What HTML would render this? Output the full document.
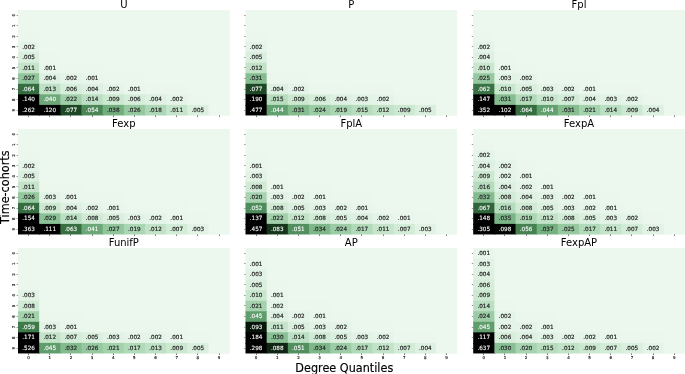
<!DOCTYPE html>
<html><head><meta charset="utf-8"><title>Heatmaps</title>
<style>
html,body{margin:0;padding:0;background:#fff;overflow:hidden}
svg{display:block}
text{font-family:"DejaVu Sans","Liberation Sans",sans-serif}
.a{font-size:5.7px;text-anchor:middle;fill:#262626;stroke:#262626;stroke-width:0.2px}
.w{fill:#fff;stroke:#fff;stroke-width:0.1px}
.t{font-size:10px;text-anchor:middle;fill:#000}
.l{font-size:11.25px;text-anchor:middle;fill:#000;stroke:#000;stroke-width:0.15px}
.k{font-size:4px;text-anchor:middle;fill:#111;stroke:#111;stroke-width:0.15px}
.m{stroke:#222;stroke-width:0.6}
.n{stroke-width:0.45}
</style></head><body>
<svg width="685" height="374" viewBox="0 0 685 374">
<rect width="685" height="374" fill="#fff"/>
<g>
<rect x="18.00" y="10.00" width="211.60" height="105.45" fill="#ecf7ee"/>
<rect x="18.00" y="10.00" width="22.16" height="11.54" fill="#ecf7ee"/><rect x="39.16" y="10.00" width="22.16" height="11.54" fill="#ecf7ee"/><rect x="60.32" y="10.00" width="22.16" height="11.54" fill="#ecf7ee"/><rect x="81.48" y="10.00" width="22.16" height="11.54" fill="#ecf7ee"/><rect x="102.64" y="10.00" width="22.16" height="11.54" fill="#ecf7ee"/><rect x="123.80" y="10.00" width="22.16" height="11.54" fill="#ecf7ee"/><rect x="144.96" y="10.00" width="22.16" height="11.54" fill="#ecf7ee"/><rect x="166.12" y="10.00" width="22.16" height="11.54" fill="#ecf7ee"/><rect x="187.28" y="10.00" width="22.16" height="11.54" fill="#ecf7ee"/><rect x="208.44" y="10.00" width="21.16" height="11.54" fill="#ecf7ee"/><rect x="18.00" y="20.55" width="22.16" height="11.54" fill="#ecf7ee"/><rect x="39.16" y="20.55" width="22.16" height="11.54" fill="#ecf7ee"/><rect x="60.32" y="20.55" width="22.16" height="11.54" fill="#ecf7ee"/><rect x="81.48" y="20.55" width="22.16" height="11.54" fill="#ecf7ee"/><rect x="102.64" y="20.55" width="22.16" height="11.54" fill="#ecf7ee"/><rect x="123.80" y="20.55" width="22.16" height="11.54" fill="#ecf7ee"/><rect x="144.96" y="20.55" width="22.16" height="11.54" fill="#ecf7ee"/><rect x="166.12" y="20.55" width="22.16" height="11.54" fill="#ecf7ee"/><rect x="187.28" y="20.55" width="22.16" height="11.54" fill="#ecf7ee"/><rect x="208.44" y="20.55" width="21.16" height="11.54" fill="#ecf7ee"/><rect x="18.00" y="31.09" width="22.16" height="11.54" fill="#ebf7ed"/><rect x="39.16" y="31.09" width="22.16" height="11.54" fill="#ecf7ee"/><rect x="60.32" y="31.09" width="22.16" height="11.54" fill="#ecf7ee"/><rect x="81.48" y="31.09" width="22.16" height="11.54" fill="#ecf7ee"/><rect x="102.64" y="31.09" width="22.16" height="11.54" fill="#ecf7ee"/><rect x="123.80" y="31.09" width="22.16" height="11.54" fill="#ecf7ee"/><rect x="144.96" y="31.09" width="22.16" height="11.54" fill="#ecf7ee"/><rect x="166.12" y="31.09" width="22.16" height="11.54" fill="#ecf7ee"/><rect x="187.28" y="31.09" width="22.16" height="11.54" fill="#ecf7ee"/><rect x="208.44" y="31.09" width="21.16" height="11.54" fill="#ecf7ee"/><rect x="18.00" y="41.63" width="22.16" height="11.54" fill="#e5f4e8"/><rect x="39.16" y="41.63" width="22.16" height="11.54" fill="#ecf7ee"/><rect x="60.32" y="41.63" width="22.16" height="11.54" fill="#ecf7ee"/><rect x="81.48" y="41.63" width="22.16" height="11.54" fill="#ecf7ee"/><rect x="102.64" y="41.63" width="22.16" height="11.54" fill="#ecf7ee"/><rect x="123.80" y="41.63" width="22.16" height="11.54" fill="#ecf7ee"/><rect x="144.96" y="41.63" width="22.16" height="11.54" fill="#ecf7ee"/><rect x="166.12" y="41.63" width="22.16" height="11.54" fill="#ecf7ee"/><rect x="187.28" y="41.63" width="22.16" height="11.54" fill="#ecf7ee"/><rect x="208.44" y="41.63" width="21.16" height="11.54" fill="#ecf7ee"/><rect x="18.00" y="52.18" width="22.16" height="11.54" fill="#daefde"/><rect x="39.16" y="52.18" width="22.16" height="11.54" fill="#ebf7ed"/><rect x="60.32" y="52.18" width="22.16" height="11.54" fill="#ecf7ee"/><rect x="81.48" y="52.18" width="22.16" height="11.54" fill="#ecf7ee"/><rect x="102.64" y="52.18" width="22.16" height="11.54" fill="#ecf7ee"/><rect x="123.80" y="52.18" width="22.16" height="11.54" fill="#ecf7ee"/><rect x="144.96" y="52.18" width="22.16" height="11.54" fill="#ecf7ee"/><rect x="166.12" y="52.18" width="22.16" height="11.54" fill="#ecf7ee"/><rect x="187.28" y="52.18" width="22.16" height="11.54" fill="#ecf7ee"/><rect x="208.44" y="52.18" width="21.16" height="11.54" fill="#ecf7ee"/><rect x="18.00" y="62.73" width="22.16" height="11.54" fill="#c5e4cb"/><rect x="39.16" y="62.73" width="22.16" height="11.54" fill="#e9f6ec"/><rect x="60.32" y="62.73" width="22.16" height="11.54" fill="#ebf7ed"/><rect x="81.48" y="62.73" width="22.16" height="11.54" fill="#ebf7ed"/><rect x="102.64" y="62.73" width="22.16" height="11.54" fill="#ecf7ee"/><rect x="123.80" y="62.73" width="22.16" height="11.54" fill="#ecf7ee"/><rect x="144.96" y="62.73" width="22.16" height="11.54" fill="#ecf7ee"/><rect x="166.12" y="62.73" width="22.16" height="11.54" fill="#ecf7ee"/><rect x="187.28" y="62.73" width="22.16" height="11.54" fill="#ecf7ee"/><rect x="208.44" y="62.73" width="21.16" height="11.54" fill="#ecf7ee"/><rect x="18.00" y="73.27" width="22.16" height="11.54" fill="#91c59c"/><rect x="39.16" y="73.27" width="22.16" height="11.54" fill="#ddf0e1"/><rect x="60.32" y="73.27" width="22.16" height="11.54" fill="#e5f4e8"/><rect x="81.48" y="73.27" width="22.16" height="11.54" fill="#e9f6ec"/><rect x="102.64" y="73.27" width="22.16" height="11.54" fill="#ebf7ed"/><rect x="123.80" y="73.27" width="22.16" height="11.54" fill="#ebf7ed"/><rect x="144.96" y="73.27" width="22.16" height="11.54" fill="#ecf7ee"/><rect x="166.12" y="73.27" width="22.16" height="11.54" fill="#ecf7ee"/><rect x="187.28" y="73.27" width="22.16" height="11.54" fill="#ecf7ee"/><rect x="208.44" y="73.27" width="21.16" height="11.54" fill="#ecf7ee"/><rect x="18.00" y="83.81" width="22.16" height="11.54" fill="#356c40"/><rect x="39.16" y="83.81" width="22.16" height="11.54" fill="#bee1c5"/><rect x="60.32" y="83.81" width="22.16" height="11.54" fill="#d6edda"/><rect x="81.48" y="83.81" width="22.16" height="11.54" fill="#ddf0e1"/><rect x="102.64" y="83.81" width="22.16" height="11.54" fill="#e5f4e8"/><rect x="123.80" y="83.81" width="22.16" height="11.54" fill="#e9f6ec"/><rect x="144.96" y="83.81" width="22.16" height="11.54" fill="#ebf7ed"/><rect x="166.12" y="83.81" width="22.16" height="11.54" fill="#ebf7ed"/><rect x="187.28" y="83.81" width="22.16" height="11.54" fill="#ecf7ee"/><rect x="208.44" y="83.81" width="21.16" height="11.54" fill="#ecf7ee"/><rect x="18.00" y="94.36" width="22.16" height="11.54" fill="#000000"/><rect x="39.16" y="94.36" width="22.16" height="11.54" fill="#6ca878"/><rect x="60.32" y="94.36" width="22.16" height="11.54" fill="#a0cfaa"/><rect x="81.48" y="94.36" width="22.16" height="11.54" fill="#bbdfc2"/><rect x="102.64" y="94.36" width="22.16" height="11.54" fill="#cce8d1"/><rect x="123.80" y="94.36" width="22.16" height="11.54" fill="#d6edda"/><rect x="144.96" y="94.36" width="22.16" height="11.54" fill="#ddf0e1"/><rect x="166.12" y="94.36" width="22.16" height="11.54" fill="#e5f4e8"/><rect x="187.28" y="94.36" width="22.16" height="11.54" fill="#ebf7ed"/><rect x="208.44" y="94.36" width="21.16" height="11.54" fill="#ecf7ee"/><rect x="18.00" y="104.91" width="22.16" height="10.54" fill="#000000"/><rect x="39.16" y="104.91" width="22.16" height="10.54" fill="#000000"/><rect x="60.32" y="104.91" width="22.16" height="10.54" fill="#1e4726"/><rect x="81.48" y="104.91" width="22.16" height="10.54" fill="#4a8656"/><rect x="102.64" y="104.91" width="22.16" height="10.54" fill="#72ad7e"/><rect x="123.80" y="104.91" width="22.16" height="10.54" fill="#95c89f"/><rect x="144.96" y="104.91" width="22.16" height="10.54" fill="#add7b6"/><rect x="166.12" y="104.91" width="22.16" height="10.54" fill="#c5e4cb"/><rect x="187.28" y="104.91" width="22.16" height="10.54" fill="#daefde"/><rect x="208.44" y="104.91" width="21.16" height="10.54" fill="#ecf7ee"/>
<text class="a" x="28.58" y="49.10">.002</text><text class="a" x="28.58" y="59.10">.005</text><text class="a" x="28.58" y="70.10">.011</text><text class="a" x="49.74" y="70.10">.001</text><text class="a" x="28.58" y="80.10">.027</text><text class="a" x="49.74" y="80.10">.004</text><text class="a" x="70.90" y="80.10">.002</text><text class="a" x="92.06" y="80.10">.001</text><text class="a w" x="28.58" y="91.10">.064</text><text class="a" x="49.74" y="91.10">.013</text><text class="a" x="70.90" y="91.10">.006</text><text class="a" x="92.06" y="91.10">.004</text><text class="a" x="113.22" y="91.10">.002</text><text class="a" x="134.38" y="91.10">.001</text><text class="a w" x="28.58" y="101.10">.140</text><text class="a w" x="49.74" y="101.10">.040</text><text class="a" x="70.90" y="101.10">.022</text><text class="a" x="92.06" y="101.10">.014</text><text class="a" x="113.22" y="101.10">.009</text><text class="a" x="134.38" y="101.10">.006</text><text class="a" x="155.54" y="101.10">.004</text><text class="a" x="176.70" y="101.10">.002</text><text class="a w" x="28.58" y="112.10">.262</text><text class="a w" x="49.74" y="112.10">.120</text><text class="a w" x="70.90" y="112.10">.077</text><text class="a w" x="92.06" y="112.10">.054</text><text class="a" x="113.22" y="112.10">.038</text><text class="a" x="134.38" y="112.10">.026</text><text class="a" x="155.54" y="112.10">.018</text><text class="a" x="176.70" y="112.10">.011</text><text class="a" x="197.86" y="112.10">.005</text>
<line class="m" x1="28.50" y1="115.45" x2="28.50" y2="117.05"/><line class="m n" x1="16.60" y1="15.50" x2="18.00" y2="15.50"/><line class="m" x1="49.50" y1="115.45" x2="49.50" y2="117.05"/><line class="m n" x1="16.60" y1="25.50" x2="18.00" y2="25.50"/><line class="m" x1="70.50" y1="115.45" x2="70.50" y2="117.05"/><line class="m n" x1="16.60" y1="36.50" x2="18.00" y2="36.50"/><line class="m" x1="92.50" y1="115.45" x2="92.50" y2="117.05"/><line class="m n" x1="16.60" y1="46.50" x2="18.00" y2="46.50"/><line class="m" x1="113.50" y1="115.45" x2="113.50" y2="117.05"/><line class="m n" x1="16.60" y1="57.50" x2="18.00" y2="57.50"/><line class="m" x1="134.50" y1="115.45" x2="134.50" y2="117.05"/><line class="m n" x1="16.60" y1="67.50" x2="18.00" y2="67.50"/><line class="m" x1="155.50" y1="115.45" x2="155.50" y2="117.05"/><line class="m n" x1="16.60" y1="78.50" x2="18.00" y2="78.50"/><line class="m" x1="176.50" y1="115.45" x2="176.50" y2="117.05"/><line class="m n" x1="16.60" y1="89.50" x2="18.00" y2="89.50"/><line class="m" x1="197.50" y1="115.45" x2="197.50" y2="117.05"/><line class="m n" x1="16.60" y1="99.50" x2="18.00" y2="99.50"/><line class="m" x1="219.50" y1="115.45" x2="219.50" y2="117.05"/><line class="m n" x1="16.60" y1="110.50" x2="18.00" y2="110.50"/>
<text class="k" transform="translate(15.00,15.27) rotate(-90)">0</text><text class="k" transform="translate(15.00,25.82) rotate(-90)">1</text><text class="k" transform="translate(15.00,36.36) rotate(-90)">2</text><text class="k" transform="translate(15.00,46.91) rotate(-90)">3</text><text class="k" transform="translate(15.00,57.45) rotate(-90)">4</text><text class="k" transform="translate(15.00,68.00) rotate(-90)">5</text><text class="k" transform="translate(15.00,78.54) rotate(-90)">6</text><text class="k" transform="translate(15.00,89.09) rotate(-90)">7</text><text class="k" transform="translate(15.00,99.63) rotate(-90)">8</text><text class="k" transform="translate(15.00,110.18) rotate(-90)">9</text>
<text class="t" x="123.80" y="8.10">U</text>
</g>
<g>
<rect x="245.50" y="10.00" width="211.60" height="105.45" fill="#ecf7ee"/>
<rect x="245.50" y="10.00" width="22.16" height="11.54" fill="#ecf7ee"/><rect x="266.66" y="10.00" width="22.16" height="11.54" fill="#ecf7ee"/><rect x="287.82" y="10.00" width="22.16" height="11.54" fill="#ecf7ee"/><rect x="308.98" y="10.00" width="22.16" height="11.54" fill="#ecf7ee"/><rect x="330.14" y="10.00" width="22.16" height="11.54" fill="#ecf7ee"/><rect x="351.30" y="10.00" width="22.16" height="11.54" fill="#ecf7ee"/><rect x="372.46" y="10.00" width="22.16" height="11.54" fill="#ecf7ee"/><rect x="393.62" y="10.00" width="22.16" height="11.54" fill="#ecf7ee"/><rect x="414.78" y="10.00" width="22.16" height="11.54" fill="#ecf7ee"/><rect x="435.94" y="10.00" width="21.16" height="11.54" fill="#ecf7ee"/><rect x="245.50" y="20.55" width="22.16" height="11.54" fill="#ecf7ee"/><rect x="266.66" y="20.55" width="22.16" height="11.54" fill="#ecf7ee"/><rect x="287.82" y="20.55" width="22.16" height="11.54" fill="#ecf7ee"/><rect x="308.98" y="20.55" width="22.16" height="11.54" fill="#ecf7ee"/><rect x="330.14" y="20.55" width="22.16" height="11.54" fill="#ecf7ee"/><rect x="351.30" y="20.55" width="22.16" height="11.54" fill="#ecf7ee"/><rect x="372.46" y="20.55" width="22.16" height="11.54" fill="#ecf7ee"/><rect x="393.62" y="20.55" width="22.16" height="11.54" fill="#ecf7ee"/><rect x="414.78" y="20.55" width="22.16" height="11.54" fill="#ecf7ee"/><rect x="435.94" y="20.55" width="21.16" height="11.54" fill="#ecf7ee"/><rect x="245.50" y="31.09" width="22.16" height="11.54" fill="#ebf7ed"/><rect x="266.66" y="31.09" width="22.16" height="11.54" fill="#ecf7ee"/><rect x="287.82" y="31.09" width="22.16" height="11.54" fill="#ecf7ee"/><rect x="308.98" y="31.09" width="22.16" height="11.54" fill="#ecf7ee"/><rect x="330.14" y="31.09" width="22.16" height="11.54" fill="#ecf7ee"/><rect x="351.30" y="31.09" width="22.16" height="11.54" fill="#ecf7ee"/><rect x="372.46" y="31.09" width="22.16" height="11.54" fill="#ecf7ee"/><rect x="393.62" y="31.09" width="22.16" height="11.54" fill="#ecf7ee"/><rect x="414.78" y="31.09" width="22.16" height="11.54" fill="#ecf7ee"/><rect x="435.94" y="31.09" width="21.16" height="11.54" fill="#ecf7ee"/><rect x="245.50" y="41.63" width="22.16" height="11.54" fill="#e5f4e8"/><rect x="266.66" y="41.63" width="22.16" height="11.54" fill="#ecf7ee"/><rect x="287.82" y="41.63" width="22.16" height="11.54" fill="#ecf7ee"/><rect x="308.98" y="41.63" width="22.16" height="11.54" fill="#ecf7ee"/><rect x="330.14" y="41.63" width="22.16" height="11.54" fill="#ecf7ee"/><rect x="351.30" y="41.63" width="22.16" height="11.54" fill="#ecf7ee"/><rect x="372.46" y="41.63" width="22.16" height="11.54" fill="#ecf7ee"/><rect x="393.62" y="41.63" width="22.16" height="11.54" fill="#ecf7ee"/><rect x="414.78" y="41.63" width="22.16" height="11.54" fill="#ecf7ee"/><rect x="435.94" y="41.63" width="21.16" height="11.54" fill="#ecf7ee"/><rect x="245.50" y="52.18" width="22.16" height="11.54" fill="#daefde"/><rect x="266.66" y="52.18" width="22.16" height="11.54" fill="#ecf7ee"/><rect x="287.82" y="52.18" width="22.16" height="11.54" fill="#ecf7ee"/><rect x="308.98" y="52.18" width="22.16" height="11.54" fill="#ecf7ee"/><rect x="330.14" y="52.18" width="22.16" height="11.54" fill="#ecf7ee"/><rect x="351.30" y="52.18" width="22.16" height="11.54" fill="#ecf7ee"/><rect x="372.46" y="52.18" width="22.16" height="11.54" fill="#ecf7ee"/><rect x="393.62" y="52.18" width="22.16" height="11.54" fill="#ecf7ee"/><rect x="414.78" y="52.18" width="22.16" height="11.54" fill="#ecf7ee"/><rect x="435.94" y="52.18" width="21.16" height="11.54" fill="#ecf7ee"/><rect x="245.50" y="62.73" width="22.16" height="11.54" fill="#c2e3c8"/><rect x="266.66" y="62.73" width="22.16" height="11.54" fill="#ecf7ee"/><rect x="287.82" y="62.73" width="22.16" height="11.54" fill="#ecf7ee"/><rect x="308.98" y="62.73" width="22.16" height="11.54" fill="#ecf7ee"/><rect x="330.14" y="62.73" width="22.16" height="11.54" fill="#ecf7ee"/><rect x="351.30" y="62.73" width="22.16" height="11.54" fill="#ecf7ee"/><rect x="372.46" y="62.73" width="22.16" height="11.54" fill="#ecf7ee"/><rect x="393.62" y="62.73" width="22.16" height="11.54" fill="#ecf7ee"/><rect x="414.78" y="62.73" width="22.16" height="11.54" fill="#ecf7ee"/><rect x="435.94" y="62.73" width="21.16" height="11.54" fill="#ecf7ee"/><rect x="245.50" y="73.27" width="22.16" height="11.54" fill="#85bc90"/><rect x="266.66" y="73.27" width="22.16" height="11.54" fill="#ebf7ed"/><rect x="287.82" y="73.27" width="22.16" height="11.54" fill="#ebf7ed"/><rect x="308.98" y="73.27" width="22.16" height="11.54" fill="#ecf7ee"/><rect x="330.14" y="73.27" width="22.16" height="11.54" fill="#ecf7ee"/><rect x="351.30" y="73.27" width="22.16" height="11.54" fill="#ecf7ee"/><rect x="372.46" y="73.27" width="22.16" height="11.54" fill="#ecf7ee"/><rect x="393.62" y="73.27" width="22.16" height="11.54" fill="#ecf7ee"/><rect x="414.78" y="73.27" width="22.16" height="11.54" fill="#ecf7ee"/><rect x="435.94" y="73.27" width="21.16" height="11.54" fill="#ecf7ee"/><rect x="245.50" y="83.81" width="22.16" height="11.54" fill="#1e4726"/><rect x="266.66" y="83.81" width="22.16" height="11.54" fill="#ddf0e1"/><rect x="287.82" y="83.81" width="22.16" height="11.54" fill="#e5f4e8"/><rect x="308.98" y="83.81" width="22.16" height="11.54" fill="#ebf7ed"/><rect x="330.14" y="83.81" width="22.16" height="11.54" fill="#ebf7ed"/><rect x="351.30" y="83.81" width="22.16" height="11.54" fill="#ebf7ed"/><rect x="372.46" y="83.81" width="22.16" height="11.54" fill="#ebf7ed"/><rect x="393.62" y="83.81" width="22.16" height="11.54" fill="#ecf7ee"/><rect x="414.78" y="83.81" width="22.16" height="11.54" fill="#ecf7ee"/><rect x="435.94" y="83.81" width="21.16" height="11.54" fill="#ecf7ee"/><rect x="245.50" y="94.36" width="22.16" height="11.54" fill="#000000"/><rect x="266.66" y="94.36" width="22.16" height="11.54" fill="#b7ddbe"/><rect x="287.82" y="94.36" width="22.16" height="11.54" fill="#cce8d1"/><rect x="308.98" y="94.36" width="22.16" height="11.54" fill="#d6edda"/><rect x="330.14" y="94.36" width="22.16" height="11.54" fill="#ddf0e1"/><rect x="351.30" y="94.36" width="22.16" height="11.54" fill="#e2f3e5"/><rect x="372.46" y="94.36" width="22.16" height="11.54" fill="#e5f4e8"/><rect x="393.62" y="94.36" width="22.16" height="11.54" fill="#ebf7ed"/><rect x="414.78" y="94.36" width="22.16" height="11.54" fill="#ebf7ed"/><rect x="435.94" y="94.36" width="21.16" height="11.54" fill="#ecf7ee"/><rect x="245.50" y="104.91" width="22.16" height="10.54" fill="#000000"/><rect x="266.66" y="104.91" width="22.16" height="10.54" fill="#63a06f"/><rect x="287.82" y="104.91" width="22.16" height="10.54" fill="#85bc90"/><rect x="308.98" y="104.91" width="22.16" height="10.54" fill="#9bcca5"/><rect x="330.14" y="104.91" width="22.16" height="10.54" fill="#abd6b3"/><rect x="351.30" y="104.91" width="22.16" height="10.54" fill="#b7ddbe"/><rect x="372.46" y="104.91" width="22.16" height="10.54" fill="#c2e3c8"/><rect x="393.62" y="104.91" width="22.16" height="10.54" fill="#cce8d1"/><rect x="414.78" y="104.91" width="22.16" height="10.54" fill="#daefde"/><rect x="435.94" y="104.91" width="21.16" height="10.54" fill="#ecf7ee"/>
<text class="a" x="256.08" y="49.10">.002</text><text class="a" x="256.08" y="59.10">.005</text><text class="a" x="256.08" y="70.10">.012</text><text class="a" x="256.08" y="80.10">.031</text><text class="a w" x="256.08" y="91.10">.077</text><text class="a" x="277.24" y="91.10">.004</text><text class="a" x="298.40" y="91.10">.002</text><text class="a w" x="256.08" y="101.10">.190</text><text class="a" x="277.24" y="101.10">.015</text><text class="a" x="298.40" y="101.10">.009</text><text class="a" x="319.56" y="101.10">.006</text><text class="a" x="340.72" y="101.10">.004</text><text class="a" x="361.88" y="101.10">.003</text><text class="a" x="383.04" y="101.10">.002</text><text class="a w" x="256.08" y="112.10">.477</text><text class="a w" x="277.24" y="112.10">.044</text><text class="a" x="298.40" y="112.10">.031</text><text class="a" x="319.56" y="112.10">.024</text><text class="a" x="340.72" y="112.10">.019</text><text class="a" x="361.88" y="112.10">.015</text><text class="a" x="383.04" y="112.10">.012</text><text class="a" x="404.20" y="112.10">.009</text><text class="a" x="425.36" y="112.10">.005</text>
<line class="m" x1="256.50" y1="115.45" x2="256.50" y2="117.05"/><line class="m n" x1="244.10" y1="15.50" x2="245.50" y2="15.50"/><line class="m" x1="277.50" y1="115.45" x2="277.50" y2="117.05"/><line class="m n" x1="244.10" y1="25.50" x2="245.50" y2="25.50"/><line class="m" x1="298.50" y1="115.45" x2="298.50" y2="117.05"/><line class="m n" x1="244.10" y1="36.50" x2="245.50" y2="36.50"/><line class="m" x1="319.50" y1="115.45" x2="319.50" y2="117.05"/><line class="m n" x1="244.10" y1="46.50" x2="245.50" y2="46.50"/><line class="m" x1="340.50" y1="115.45" x2="340.50" y2="117.05"/><line class="m n" x1="244.10" y1="57.50" x2="245.50" y2="57.50"/><line class="m" x1="361.50" y1="115.45" x2="361.50" y2="117.05"/><line class="m n" x1="244.10" y1="67.50" x2="245.50" y2="67.50"/><line class="m" x1="383.50" y1="115.45" x2="383.50" y2="117.05"/><line class="m n" x1="244.10" y1="78.50" x2="245.50" y2="78.50"/><line class="m" x1="404.50" y1="115.45" x2="404.50" y2="117.05"/><line class="m n" x1="244.10" y1="89.50" x2="245.50" y2="89.50"/><line class="m" x1="425.50" y1="115.45" x2="425.50" y2="117.05"/><line class="m n" x1="244.10" y1="99.50" x2="245.50" y2="99.50"/><line class="m" x1="446.50" y1="115.45" x2="446.50" y2="117.05"/><line class="m n" x1="244.10" y1="110.50" x2="245.50" y2="110.50"/>
<text class="t" x="351.30" y="8.10">P</text>
</g>
<g>
<rect x="473.20" y="10.00" width="211.60" height="105.45" fill="#ecf7ee"/>
<rect x="473.20" y="10.00" width="22.16" height="11.54" fill="#ecf7ee"/><rect x="494.36" y="10.00" width="22.16" height="11.54" fill="#ecf7ee"/><rect x="515.52" y="10.00" width="22.16" height="11.54" fill="#ecf7ee"/><rect x="536.68" y="10.00" width="22.16" height="11.54" fill="#ecf7ee"/><rect x="557.84" y="10.00" width="22.16" height="11.54" fill="#ecf7ee"/><rect x="579.00" y="10.00" width="22.16" height="11.54" fill="#ecf7ee"/><rect x="600.16" y="10.00" width="22.16" height="11.54" fill="#ecf7ee"/><rect x="621.32" y="10.00" width="22.16" height="11.54" fill="#ecf7ee"/><rect x="642.48" y="10.00" width="22.16" height="11.54" fill="#ecf7ee"/><rect x="663.64" y="10.00" width="21.16" height="11.54" fill="#ecf7ee"/><rect x="473.20" y="20.55" width="22.16" height="11.54" fill="#ecf7ee"/><rect x="494.36" y="20.55" width="22.16" height="11.54" fill="#ecf7ee"/><rect x="515.52" y="20.55" width="22.16" height="11.54" fill="#ecf7ee"/><rect x="536.68" y="20.55" width="22.16" height="11.54" fill="#ecf7ee"/><rect x="557.84" y="20.55" width="22.16" height="11.54" fill="#ecf7ee"/><rect x="579.00" y="20.55" width="22.16" height="11.54" fill="#ecf7ee"/><rect x="600.16" y="20.55" width="22.16" height="11.54" fill="#ecf7ee"/><rect x="621.32" y="20.55" width="22.16" height="11.54" fill="#ecf7ee"/><rect x="642.48" y="20.55" width="22.16" height="11.54" fill="#ecf7ee"/><rect x="663.64" y="20.55" width="21.16" height="11.54" fill="#ecf7ee"/><rect x="473.20" y="31.09" width="22.16" height="11.54" fill="#ebf7ed"/><rect x="494.36" y="31.09" width="22.16" height="11.54" fill="#ecf7ee"/><rect x="515.52" y="31.09" width="22.16" height="11.54" fill="#ecf7ee"/><rect x="536.68" y="31.09" width="22.16" height="11.54" fill="#ecf7ee"/><rect x="557.84" y="31.09" width="22.16" height="11.54" fill="#ecf7ee"/><rect x="579.00" y="31.09" width="22.16" height="11.54" fill="#ecf7ee"/><rect x="600.16" y="31.09" width="22.16" height="11.54" fill="#ecf7ee"/><rect x="621.32" y="31.09" width="22.16" height="11.54" fill="#ecf7ee"/><rect x="642.48" y="31.09" width="22.16" height="11.54" fill="#ecf7ee"/><rect x="663.64" y="31.09" width="21.16" height="11.54" fill="#ecf7ee"/><rect x="473.20" y="41.63" width="22.16" height="11.54" fill="#e5f4e8"/><rect x="494.36" y="41.63" width="22.16" height="11.54" fill="#ecf7ee"/><rect x="515.52" y="41.63" width="22.16" height="11.54" fill="#ecf7ee"/><rect x="536.68" y="41.63" width="22.16" height="11.54" fill="#ecf7ee"/><rect x="557.84" y="41.63" width="22.16" height="11.54" fill="#ecf7ee"/><rect x="579.00" y="41.63" width="22.16" height="11.54" fill="#ecf7ee"/><rect x="600.16" y="41.63" width="22.16" height="11.54" fill="#ecf7ee"/><rect x="621.32" y="41.63" width="22.16" height="11.54" fill="#ecf7ee"/><rect x="642.48" y="41.63" width="22.16" height="11.54" fill="#ecf7ee"/><rect x="663.64" y="41.63" width="21.16" height="11.54" fill="#ecf7ee"/><rect x="473.20" y="52.18" width="22.16" height="11.54" fill="#ddf0e1"/><rect x="494.36" y="52.18" width="22.16" height="11.54" fill="#ebf7ed"/><rect x="515.52" y="52.18" width="22.16" height="11.54" fill="#ecf7ee"/><rect x="536.68" y="52.18" width="22.16" height="11.54" fill="#ecf7ee"/><rect x="557.84" y="52.18" width="22.16" height="11.54" fill="#ecf7ee"/><rect x="579.00" y="52.18" width="22.16" height="11.54" fill="#ecf7ee"/><rect x="600.16" y="52.18" width="22.16" height="11.54" fill="#ecf7ee"/><rect x="621.32" y="52.18" width="22.16" height="11.54" fill="#ecf7ee"/><rect x="642.48" y="52.18" width="22.16" height="11.54" fill="#ecf7ee"/><rect x="663.64" y="52.18" width="21.16" height="11.54" fill="#ecf7ee"/><rect x="473.20" y="62.73" width="22.16" height="11.54" fill="#c9e7cf"/><rect x="494.36" y="62.73" width="22.16" height="11.54" fill="#e9f6ec"/><rect x="515.52" y="62.73" width="22.16" height="11.54" fill="#ebf7ed"/><rect x="536.68" y="62.73" width="22.16" height="11.54" fill="#ecf7ee"/><rect x="557.84" y="62.73" width="22.16" height="11.54" fill="#ecf7ee"/><rect x="579.00" y="62.73" width="22.16" height="11.54" fill="#ecf7ee"/><rect x="600.16" y="62.73" width="22.16" height="11.54" fill="#ecf7ee"/><rect x="621.32" y="62.73" width="22.16" height="11.54" fill="#ecf7ee"/><rect x="642.48" y="62.73" width="22.16" height="11.54" fill="#ecf7ee"/><rect x="663.64" y="62.73" width="21.16" height="11.54" fill="#ecf7ee"/><rect x="473.20" y="73.27" width="22.16" height="11.54" fill="#97c9a1"/><rect x="494.36" y="73.27" width="22.16" height="11.54" fill="#e2f3e5"/><rect x="515.52" y="73.27" width="22.16" height="11.54" fill="#e5f4e8"/><rect x="536.68" y="73.27" width="22.16" height="11.54" fill="#ebf7ed"/><rect x="557.84" y="73.27" width="22.16" height="11.54" fill="#ebf7ed"/><rect x="579.00" y="73.27" width="22.16" height="11.54" fill="#ebf7ed"/><rect x="600.16" y="73.27" width="22.16" height="11.54" fill="#ecf7ee"/><rect x="621.32" y="73.27" width="22.16" height="11.54" fill="#ecf7ee"/><rect x="642.48" y="73.27" width="22.16" height="11.54" fill="#ecf7ee"/><rect x="663.64" y="73.27" width="21.16" height="11.54" fill="#ecf7ee"/><rect x="473.20" y="83.81" width="22.16" height="11.54" fill="#397245"/><rect x="494.36" y="83.81" width="22.16" height="11.54" fill="#c9e7cf"/><rect x="515.52" y="83.81" width="22.16" height="11.54" fill="#daefde"/><rect x="536.68" y="83.81" width="22.16" height="11.54" fill="#e2f3e5"/><rect x="557.84" y="83.81" width="22.16" height="11.54" fill="#e5f4e8"/><rect x="579.00" y="83.81" width="22.16" height="11.54" fill="#e9f6ec"/><rect x="600.16" y="83.81" width="22.16" height="11.54" fill="#ebf7ed"/><rect x="621.32" y="83.81" width="22.16" height="11.54" fill="#ebf7ed"/><rect x="642.48" y="83.81" width="22.16" height="11.54" fill="#ecf7ee"/><rect x="663.64" y="83.81" width="21.16" height="11.54" fill="#ecf7ee"/><rect x="473.20" y="94.36" width="22.16" height="11.54" fill="#000000"/><rect x="494.36" y="94.36" width="22.16" height="11.54" fill="#85bc90"/><rect x="515.52" y="94.36" width="22.16" height="11.54" fill="#b1dab9"/><rect x="536.68" y="94.36" width="22.16" height="11.54" fill="#c9e7cf"/><rect x="557.84" y="94.36" width="22.16" height="11.54" fill="#d3ecd8"/><rect x="579.00" y="94.36" width="22.16" height="11.54" fill="#ddf0e1"/><rect x="600.16" y="94.36" width="22.16" height="11.54" fill="#e2f3e5"/><rect x="621.32" y="94.36" width="22.16" height="11.54" fill="#e5f4e8"/><rect x="642.48" y="94.36" width="22.16" height="11.54" fill="#ebf7ed"/><rect x="663.64" y="94.36" width="21.16" height="11.54" fill="#ecf7ee"/><rect x="473.20" y="104.91" width="22.16" height="10.54" fill="#000000"/><rect x="494.36" y="104.91" width="22.16" height="10.54" fill="#000000"/><rect x="515.52" y="104.91" width="22.16" height="10.54" fill="#356c40"/><rect x="536.68" y="104.91" width="22.16" height="10.54" fill="#63a06f"/><rect x="557.84" y="104.91" width="22.16" height="10.54" fill="#85bc90"/><rect x="579.00" y="104.91" width="22.16" height="10.54" fill="#a4d2ad"/><rect x="600.16" y="104.91" width="22.16" height="10.54" fill="#bbdfc2"/><rect x="621.32" y="104.91" width="22.16" height="10.54" fill="#cce8d1"/><rect x="642.48" y="104.91" width="22.16" height="10.54" fill="#ddf0e1"/><rect x="663.64" y="104.91" width="21.16" height="10.54" fill="#ecf7ee"/>
<text class="a" x="483.78" y="49.10">.002</text><text class="a" x="483.78" y="59.10">.004</text><text class="a" x="483.78" y="70.10">.010</text><text class="a" x="504.94" y="70.10">.001</text><text class="a" x="483.78" y="80.10">.025</text><text class="a" x="504.94" y="80.10">.003</text><text class="a" x="526.10" y="80.10">.002</text><text class="a w" x="483.78" y="91.10">.062</text><text class="a" x="504.94" y="91.10">.010</text><text class="a" x="526.10" y="91.10">.005</text><text class="a" x="547.26" y="91.10">.003</text><text class="a" x="568.42" y="91.10">.002</text><text class="a" x="589.58" y="91.10">.001</text><text class="a w" x="483.78" y="101.10">.147</text><text class="a" x="504.94" y="101.10">.031</text><text class="a" x="526.10" y="101.10">.017</text><text class="a" x="547.26" y="101.10">.010</text><text class="a" x="568.42" y="101.10">.007</text><text class="a" x="589.58" y="101.10">.004</text><text class="a" x="610.74" y="101.10">.003</text><text class="a" x="631.90" y="101.10">.002</text><text class="a w" x="483.78" y="112.10">.352</text><text class="a w" x="504.94" y="112.10">.102</text><text class="a w" x="526.10" y="112.10">.064</text><text class="a w" x="547.26" y="112.10">.044</text><text class="a" x="568.42" y="112.10">.031</text><text class="a" x="589.58" y="112.10">.021</text><text class="a" x="610.74" y="112.10">.014</text><text class="a" x="631.90" y="112.10">.009</text><text class="a" x="653.06" y="112.10">.004</text>
<line class="m" x1="483.50" y1="115.45" x2="483.50" y2="117.05"/><line class="m n" x1="471.80" y1="15.50" x2="473.20" y2="15.50"/><line class="m" x1="504.50" y1="115.45" x2="504.50" y2="117.05"/><line class="m n" x1="471.80" y1="25.50" x2="473.20" y2="25.50"/><line class="m" x1="526.50" y1="115.45" x2="526.50" y2="117.05"/><line class="m n" x1="471.80" y1="36.50" x2="473.20" y2="36.50"/><line class="m" x1="547.50" y1="115.45" x2="547.50" y2="117.05"/><line class="m n" x1="471.80" y1="46.50" x2="473.20" y2="46.50"/><line class="m" x1="568.50" y1="115.45" x2="568.50" y2="117.05"/><line class="m n" x1="471.80" y1="57.50" x2="473.20" y2="57.50"/><line class="m" x1="589.50" y1="115.45" x2="589.50" y2="117.05"/><line class="m n" x1="471.80" y1="67.50" x2="473.20" y2="67.50"/><line class="m" x1="610.50" y1="115.45" x2="610.50" y2="117.05"/><line class="m n" x1="471.80" y1="78.50" x2="473.20" y2="78.50"/><line class="m" x1="631.50" y1="115.45" x2="631.50" y2="117.05"/><line class="m n" x1="471.80" y1="89.50" x2="473.20" y2="89.50"/><line class="m" x1="653.50" y1="115.45" x2="653.50" y2="117.05"/><line class="m n" x1="471.80" y1="99.50" x2="473.20" y2="99.50"/><line class="m" x1="674.50" y1="115.45" x2="674.50" y2="117.05"/><line class="m n" x1="471.80" y1="110.50" x2="473.20" y2="110.50"/>
<text class="t" x="579.00" y="8.10">Fpl</text>
</g>
<g>
<rect x="18.00" y="129.00" width="211.60" height="105.45" fill="#ecf7ee"/>
<rect x="18.00" y="129.00" width="22.16" height="11.54" fill="#ecf7ee"/><rect x="39.16" y="129.00" width="22.16" height="11.54" fill="#ecf7ee"/><rect x="60.32" y="129.00" width="22.16" height="11.54" fill="#ecf7ee"/><rect x="81.48" y="129.00" width="22.16" height="11.54" fill="#ecf7ee"/><rect x="102.64" y="129.00" width="22.16" height="11.54" fill="#ecf7ee"/><rect x="123.80" y="129.00" width="22.16" height="11.54" fill="#ecf7ee"/><rect x="144.96" y="129.00" width="22.16" height="11.54" fill="#ecf7ee"/><rect x="166.12" y="129.00" width="22.16" height="11.54" fill="#ecf7ee"/><rect x="187.28" y="129.00" width="22.16" height="11.54" fill="#ecf7ee"/><rect x="208.44" y="129.00" width="21.16" height="11.54" fill="#ecf7ee"/><rect x="18.00" y="139.54" width="22.16" height="11.54" fill="#ecf7ee"/><rect x="39.16" y="139.54" width="22.16" height="11.54" fill="#ecf7ee"/><rect x="60.32" y="139.54" width="22.16" height="11.54" fill="#ecf7ee"/><rect x="81.48" y="139.54" width="22.16" height="11.54" fill="#ecf7ee"/><rect x="102.64" y="139.54" width="22.16" height="11.54" fill="#ecf7ee"/><rect x="123.80" y="139.54" width="22.16" height="11.54" fill="#ecf7ee"/><rect x="144.96" y="139.54" width="22.16" height="11.54" fill="#ecf7ee"/><rect x="166.12" y="139.54" width="22.16" height="11.54" fill="#ecf7ee"/><rect x="187.28" y="139.54" width="22.16" height="11.54" fill="#ecf7ee"/><rect x="208.44" y="139.54" width="21.16" height="11.54" fill="#ecf7ee"/><rect x="18.00" y="150.09" width="22.16" height="11.54" fill="#ebf7ed"/><rect x="39.16" y="150.09" width="22.16" height="11.54" fill="#ecf7ee"/><rect x="60.32" y="150.09" width="22.16" height="11.54" fill="#ecf7ee"/><rect x="81.48" y="150.09" width="22.16" height="11.54" fill="#ecf7ee"/><rect x="102.64" y="150.09" width="22.16" height="11.54" fill="#ecf7ee"/><rect x="123.80" y="150.09" width="22.16" height="11.54" fill="#ecf7ee"/><rect x="144.96" y="150.09" width="22.16" height="11.54" fill="#ecf7ee"/><rect x="166.12" y="150.09" width="22.16" height="11.54" fill="#ecf7ee"/><rect x="187.28" y="150.09" width="22.16" height="11.54" fill="#ecf7ee"/><rect x="208.44" y="150.09" width="21.16" height="11.54" fill="#ecf7ee"/><rect x="18.00" y="160.63" width="22.16" height="11.54" fill="#e5f4e8"/><rect x="39.16" y="160.63" width="22.16" height="11.54" fill="#ecf7ee"/><rect x="60.32" y="160.63" width="22.16" height="11.54" fill="#ecf7ee"/><rect x="81.48" y="160.63" width="22.16" height="11.54" fill="#ecf7ee"/><rect x="102.64" y="160.63" width="22.16" height="11.54" fill="#ecf7ee"/><rect x="123.80" y="160.63" width="22.16" height="11.54" fill="#ecf7ee"/><rect x="144.96" y="160.63" width="22.16" height="11.54" fill="#ecf7ee"/><rect x="166.12" y="160.63" width="22.16" height="11.54" fill="#ecf7ee"/><rect x="187.28" y="160.63" width="22.16" height="11.54" fill="#ecf7ee"/><rect x="208.44" y="160.63" width="21.16" height="11.54" fill="#ecf7ee"/><rect x="18.00" y="171.18" width="22.16" height="11.54" fill="#daefde"/><rect x="39.16" y="171.18" width="22.16" height="11.54" fill="#ecf7ee"/><rect x="60.32" y="171.18" width="22.16" height="11.54" fill="#ecf7ee"/><rect x="81.48" y="171.18" width="22.16" height="11.54" fill="#ecf7ee"/><rect x="102.64" y="171.18" width="22.16" height="11.54" fill="#ecf7ee"/><rect x="123.80" y="171.18" width="22.16" height="11.54" fill="#ecf7ee"/><rect x="144.96" y="171.18" width="22.16" height="11.54" fill="#ecf7ee"/><rect x="166.12" y="171.18" width="22.16" height="11.54" fill="#ecf7ee"/><rect x="187.28" y="171.18" width="22.16" height="11.54" fill="#ecf7ee"/><rect x="208.44" y="171.18" width="21.16" height="11.54" fill="#ecf7ee"/><rect x="18.00" y="181.72" width="22.16" height="11.54" fill="#c5e4cb"/><rect x="39.16" y="181.72" width="22.16" height="11.54" fill="#ebf7ed"/><rect x="60.32" y="181.72" width="22.16" height="11.54" fill="#ebf7ed"/><rect x="81.48" y="181.72" width="22.16" height="11.54" fill="#ecf7ee"/><rect x="102.64" y="181.72" width="22.16" height="11.54" fill="#ecf7ee"/><rect x="123.80" y="181.72" width="22.16" height="11.54" fill="#ecf7ee"/><rect x="144.96" y="181.72" width="22.16" height="11.54" fill="#ecf7ee"/><rect x="166.12" y="181.72" width="22.16" height="11.54" fill="#ecf7ee"/><rect x="187.28" y="181.72" width="22.16" height="11.54" fill="#ecf7ee"/><rect x="208.44" y="181.72" width="21.16" height="11.54" fill="#ecf7ee"/><rect x="18.00" y="192.27" width="22.16" height="11.54" fill="#95c89f"/><rect x="39.16" y="192.27" width="22.16" height="11.54" fill="#e2f3e5"/><rect x="60.32" y="192.27" width="22.16" height="11.54" fill="#e9f6ec"/><rect x="81.48" y="192.27" width="22.16" height="11.54" fill="#ebf7ed"/><rect x="102.64" y="192.27" width="22.16" height="11.54" fill="#ebf7ed"/><rect x="123.80" y="192.27" width="22.16" height="11.54" fill="#ecf7ee"/><rect x="144.96" y="192.27" width="22.16" height="11.54" fill="#ecf7ee"/><rect x="166.12" y="192.27" width="22.16" height="11.54" fill="#ecf7ee"/><rect x="187.28" y="192.27" width="22.16" height="11.54" fill="#ecf7ee"/><rect x="208.44" y="192.27" width="21.16" height="11.54" fill="#ecf7ee"/><rect x="18.00" y="202.81" width="22.16" height="11.54" fill="#356c40"/><rect x="39.16" y="202.81" width="22.16" height="11.54" fill="#cce8d1"/><rect x="60.32" y="202.81" width="22.16" height="11.54" fill="#ddf0e1"/><rect x="81.48" y="202.81" width="22.16" height="11.54" fill="#e5f4e8"/><rect x="102.64" y="202.81" width="22.16" height="11.54" fill="#e9f6ec"/><rect x="123.80" y="202.81" width="22.16" height="11.54" fill="#ebf7ed"/><rect x="144.96" y="202.81" width="22.16" height="11.54" fill="#ebf7ed"/><rect x="166.12" y="202.81" width="22.16" height="11.54" fill="#ebf7ed"/><rect x="187.28" y="202.81" width="22.16" height="11.54" fill="#ecf7ee"/><rect x="208.44" y="202.81" width="21.16" height="11.54" fill="#ecf7ee"/><rect x="18.00" y="213.36" width="22.16" height="11.54" fill="#000000"/><rect x="39.16" y="213.36" width="22.16" height="11.54" fill="#8bc196"/><rect x="60.32" y="213.36" width="22.16" height="11.54" fill="#bbdfc2"/><rect x="81.48" y="213.36" width="22.16" height="11.54" fill="#d0ead5"/><rect x="102.64" y="213.36" width="22.16" height="11.54" fill="#daefde"/><rect x="123.80" y="213.36" width="22.16" height="11.54" fill="#e2f3e5"/><rect x="144.96" y="213.36" width="22.16" height="11.54" fill="#e5f4e8"/><rect x="166.12" y="213.36" width="22.16" height="11.54" fill="#e9f6ec"/><rect x="187.28" y="213.36" width="22.16" height="11.54" fill="#ebf7ed"/><rect x="208.44" y="213.36" width="21.16" height="11.54" fill="#ecf7ee"/><rect x="18.00" y="223.91" width="22.16" height="10.54" fill="#000000"/><rect x="39.16" y="223.91" width="22.16" height="10.54" fill="#000000"/><rect x="60.32" y="223.91" width="22.16" height="10.54" fill="#376f42"/><rect x="81.48" y="223.91" width="22.16" height="10.54" fill="#6ba777"/><rect x="102.64" y="223.91" width="22.16" height="10.54" fill="#91c59c"/><rect x="123.80" y="223.91" width="22.16" height="10.54" fill="#abd6b3"/><rect x="144.96" y="223.91" width="22.16" height="10.54" fill="#c2e3c8"/><rect x="166.12" y="223.91" width="22.16" height="10.54" fill="#d3ecd8"/><rect x="187.28" y="223.91" width="22.16" height="10.54" fill="#e2f3e5"/><rect x="208.44" y="223.91" width="21.16" height="10.54" fill="#ecf7ee"/>
<text class="a" x="28.58" y="168.10">.002</text><text class="a" x="28.58" y="178.10">.005</text><text class="a" x="28.58" y="189.10">.011</text><text class="a" x="28.58" y="199.10">.026</text><text class="a" x="49.74" y="199.10">.003</text><text class="a" x="70.90" y="199.10">.001</text><text class="a w" x="28.58" y="210.10">.064</text><text class="a" x="49.74" y="210.10">.009</text><text class="a" x="70.90" y="210.10">.004</text><text class="a" x="92.06" y="210.10">.002</text><text class="a" x="113.22" y="210.10">.001</text><text class="a w" x="28.58" y="220.10">.154</text><text class="a" x="49.74" y="220.10">.029</text><text class="a" x="70.90" y="220.10">.014</text><text class="a" x="92.06" y="220.10">.008</text><text class="a" x="113.22" y="220.10">.005</text><text class="a" x="134.38" y="220.10">.003</text><text class="a" x="155.54" y="220.10">.002</text><text class="a" x="176.70" y="220.10">.001</text><text class="a w" x="28.58" y="231.10">.363</text><text class="a w" x="49.74" y="231.10">.111</text><text class="a w" x="70.90" y="231.10">.063</text><text class="a w" x="92.06" y="231.10">.041</text><text class="a" x="113.22" y="231.10">.027</text><text class="a" x="134.38" y="231.10">.019</text><text class="a" x="155.54" y="231.10">.012</text><text class="a" x="176.70" y="231.10">.007</text><text class="a" x="197.86" y="231.10">.003</text>
<line class="m" x1="28.50" y1="234.45" x2="28.50" y2="236.05"/><line class="m n" x1="16.60" y1="134.50" x2="18.00" y2="134.50"/><line class="m" x1="49.50" y1="234.45" x2="49.50" y2="236.05"/><line class="m n" x1="16.60" y1="144.50" x2="18.00" y2="144.50"/><line class="m" x1="70.50" y1="234.45" x2="70.50" y2="236.05"/><line class="m n" x1="16.60" y1="155.50" x2="18.00" y2="155.50"/><line class="m" x1="92.50" y1="234.45" x2="92.50" y2="236.05"/><line class="m n" x1="16.60" y1="165.50" x2="18.00" y2="165.50"/><line class="m" x1="113.50" y1="234.45" x2="113.50" y2="236.05"/><line class="m n" x1="16.60" y1="176.50" x2="18.00" y2="176.50"/><line class="m" x1="134.50" y1="234.45" x2="134.50" y2="236.05"/><line class="m n" x1="16.60" y1="186.50" x2="18.00" y2="186.50"/><line class="m" x1="155.50" y1="234.45" x2="155.50" y2="236.05"/><line class="m n" x1="16.60" y1="197.50" x2="18.00" y2="197.50"/><line class="m" x1="176.50" y1="234.45" x2="176.50" y2="236.05"/><line class="m n" x1="16.60" y1="208.50" x2="18.00" y2="208.50"/><line class="m" x1="197.50" y1="234.45" x2="197.50" y2="236.05"/><line class="m n" x1="16.60" y1="218.50" x2="18.00" y2="218.50"/><line class="m" x1="219.50" y1="234.45" x2="219.50" y2="236.05"/><line class="m n" x1="16.60" y1="229.50" x2="18.00" y2="229.50"/>
<text class="k" transform="translate(15.00,134.27) rotate(-90)">0</text><text class="k" transform="translate(15.00,144.82) rotate(-90)">1</text><text class="k" transform="translate(15.00,155.36) rotate(-90)">2</text><text class="k" transform="translate(15.00,165.91) rotate(-90)">3</text><text class="k" transform="translate(15.00,176.45) rotate(-90)">4</text><text class="k" transform="translate(15.00,187.00) rotate(-90)">5</text><text class="k" transform="translate(15.00,197.54) rotate(-90)">6</text><text class="k" transform="translate(15.00,208.09) rotate(-90)">7</text><text class="k" transform="translate(15.00,218.63) rotate(-90)">8</text><text class="k" transform="translate(15.00,229.18) rotate(-90)">9</text>
<text class="t" x="123.80" y="127.10">Fexp</text>
</g>
<g>
<rect x="245.50" y="129.00" width="211.60" height="105.45" fill="#ecf7ee"/>
<rect x="245.50" y="129.00" width="22.16" height="11.54" fill="#ecf7ee"/><rect x="266.66" y="129.00" width="22.16" height="11.54" fill="#ecf7ee"/><rect x="287.82" y="129.00" width="22.16" height="11.54" fill="#ecf7ee"/><rect x="308.98" y="129.00" width="22.16" height="11.54" fill="#ecf7ee"/><rect x="330.14" y="129.00" width="22.16" height="11.54" fill="#ecf7ee"/><rect x="351.30" y="129.00" width="22.16" height="11.54" fill="#ecf7ee"/><rect x="372.46" y="129.00" width="22.16" height="11.54" fill="#ecf7ee"/><rect x="393.62" y="129.00" width="22.16" height="11.54" fill="#ecf7ee"/><rect x="414.78" y="129.00" width="22.16" height="11.54" fill="#ecf7ee"/><rect x="435.94" y="129.00" width="21.16" height="11.54" fill="#ecf7ee"/><rect x="245.50" y="139.54" width="22.16" height="11.54" fill="#ecf7ee"/><rect x="266.66" y="139.54" width="22.16" height="11.54" fill="#ecf7ee"/><rect x="287.82" y="139.54" width="22.16" height="11.54" fill="#ecf7ee"/><rect x="308.98" y="139.54" width="22.16" height="11.54" fill="#ecf7ee"/><rect x="330.14" y="139.54" width="22.16" height="11.54" fill="#ecf7ee"/><rect x="351.30" y="139.54" width="22.16" height="11.54" fill="#ecf7ee"/><rect x="372.46" y="139.54" width="22.16" height="11.54" fill="#ecf7ee"/><rect x="393.62" y="139.54" width="22.16" height="11.54" fill="#ecf7ee"/><rect x="414.78" y="139.54" width="22.16" height="11.54" fill="#ecf7ee"/><rect x="435.94" y="139.54" width="21.16" height="11.54" fill="#ecf7ee"/><rect x="245.50" y="150.09" width="22.16" height="11.54" fill="#ebf7ed"/><rect x="266.66" y="150.09" width="22.16" height="11.54" fill="#ecf7ee"/><rect x="287.82" y="150.09" width="22.16" height="11.54" fill="#ecf7ee"/><rect x="308.98" y="150.09" width="22.16" height="11.54" fill="#ecf7ee"/><rect x="330.14" y="150.09" width="22.16" height="11.54" fill="#ecf7ee"/><rect x="351.30" y="150.09" width="22.16" height="11.54" fill="#ecf7ee"/><rect x="372.46" y="150.09" width="22.16" height="11.54" fill="#ecf7ee"/><rect x="393.62" y="150.09" width="22.16" height="11.54" fill="#ecf7ee"/><rect x="414.78" y="150.09" width="22.16" height="11.54" fill="#ecf7ee"/><rect x="435.94" y="150.09" width="21.16" height="11.54" fill="#ecf7ee"/><rect x="245.50" y="160.63" width="22.16" height="11.54" fill="#e9f6ec"/><rect x="266.66" y="160.63" width="22.16" height="11.54" fill="#ecf7ee"/><rect x="287.82" y="160.63" width="22.16" height="11.54" fill="#ecf7ee"/><rect x="308.98" y="160.63" width="22.16" height="11.54" fill="#ecf7ee"/><rect x="330.14" y="160.63" width="22.16" height="11.54" fill="#ecf7ee"/><rect x="351.30" y="160.63" width="22.16" height="11.54" fill="#ecf7ee"/><rect x="372.46" y="160.63" width="22.16" height="11.54" fill="#ecf7ee"/><rect x="393.62" y="160.63" width="22.16" height="11.54" fill="#ecf7ee"/><rect x="414.78" y="160.63" width="22.16" height="11.54" fill="#ecf7ee"/><rect x="435.94" y="160.63" width="21.16" height="11.54" fill="#ecf7ee"/><rect x="245.50" y="171.18" width="22.16" height="11.54" fill="#e2f3e5"/><rect x="266.66" y="171.18" width="22.16" height="11.54" fill="#ebf7ed"/><rect x="287.82" y="171.18" width="22.16" height="11.54" fill="#ecf7ee"/><rect x="308.98" y="171.18" width="22.16" height="11.54" fill="#ecf7ee"/><rect x="330.14" y="171.18" width="22.16" height="11.54" fill="#ecf7ee"/><rect x="351.30" y="171.18" width="22.16" height="11.54" fill="#ecf7ee"/><rect x="372.46" y="171.18" width="22.16" height="11.54" fill="#ecf7ee"/><rect x="393.62" y="171.18" width="22.16" height="11.54" fill="#ecf7ee"/><rect x="414.78" y="171.18" width="22.16" height="11.54" fill="#ecf7ee"/><rect x="435.94" y="171.18" width="21.16" height="11.54" fill="#ecf7ee"/><rect x="245.50" y="181.72" width="22.16" height="11.54" fill="#d0ead5"/><rect x="266.66" y="181.72" width="22.16" height="11.54" fill="#e9f6ec"/><rect x="287.82" y="181.72" width="22.16" height="11.54" fill="#ebf7ed"/><rect x="308.98" y="181.72" width="22.16" height="11.54" fill="#ebf7ed"/><rect x="330.14" y="181.72" width="22.16" height="11.54" fill="#ecf7ee"/><rect x="351.30" y="181.72" width="22.16" height="11.54" fill="#ecf7ee"/><rect x="372.46" y="181.72" width="22.16" height="11.54" fill="#ecf7ee"/><rect x="393.62" y="181.72" width="22.16" height="11.54" fill="#ecf7ee"/><rect x="414.78" y="181.72" width="22.16" height="11.54" fill="#ecf7ee"/><rect x="435.94" y="181.72" width="21.16" height="11.54" fill="#ecf7ee"/><rect x="245.50" y="192.27" width="22.16" height="11.54" fill="#a7d3b0"/><rect x="266.66" y="192.27" width="22.16" height="11.54" fill="#e2f3e5"/><rect x="287.82" y="192.27" width="22.16" height="11.54" fill="#e5f4e8"/><rect x="308.98" y="192.27" width="22.16" height="11.54" fill="#e9f6ec"/><rect x="330.14" y="192.27" width="22.16" height="11.54" fill="#ebf7ed"/><rect x="351.30" y="192.27" width="22.16" height="11.54" fill="#ebf7ed"/><rect x="372.46" y="192.27" width="22.16" height="11.54" fill="#ecf7ee"/><rect x="393.62" y="192.27" width="22.16" height="11.54" fill="#ecf7ee"/><rect x="414.78" y="192.27" width="22.16" height="11.54" fill="#ecf7ee"/><rect x="435.94" y="192.27" width="21.16" height="11.54" fill="#ecf7ee"/><rect x="245.50" y="202.81" width="22.16" height="11.54" fill="#4f8c5b"/><rect x="266.66" y="202.81" width="22.16" height="11.54" fill="#d0ead5"/><rect x="287.82" y="202.81" width="22.16" height="11.54" fill="#daefde"/><rect x="308.98" y="202.81" width="22.16" height="11.54" fill="#e2f3e5"/><rect x="330.14" y="202.81" width="22.16" height="11.54" fill="#e5f4e8"/><rect x="351.30" y="202.81" width="22.16" height="11.54" fill="#e9f6ec"/><rect x="372.46" y="202.81" width="22.16" height="11.54" fill="#ebf7ed"/><rect x="393.62" y="202.81" width="22.16" height="11.54" fill="#ebf7ed"/><rect x="414.78" y="202.81" width="22.16" height="11.54" fill="#ecf7ee"/><rect x="435.94" y="202.81" width="21.16" height="11.54" fill="#ecf7ee"/><rect x="245.50" y="213.36" width="22.16" height="11.54" fill="#000000"/><rect x="266.66" y="213.36" width="22.16" height="11.54" fill="#a0cfaa"/><rect x="287.82" y="213.36" width="22.16" height="11.54" fill="#c2e3c8"/><rect x="308.98" y="213.36" width="22.16" height="11.54" fill="#d0ead5"/><rect x="330.14" y="213.36" width="22.16" height="11.54" fill="#daefde"/><rect x="351.30" y="213.36" width="22.16" height="11.54" fill="#ddf0e1"/><rect x="372.46" y="213.36" width="22.16" height="11.54" fill="#e5f4e8"/><rect x="393.62" y="213.36" width="22.16" height="11.54" fill="#e9f6ec"/><rect x="414.78" y="213.36" width="22.16" height="11.54" fill="#ebf7ed"/><rect x="435.94" y="213.36" width="21.16" height="11.54" fill="#ecf7ee"/><rect x="245.50" y="223.91" width="22.16" height="10.54" fill="#000000"/><rect x="266.66" y="223.91" width="22.16" height="10.54" fill="#15361b"/><rect x="287.82" y="223.91" width="22.16" height="10.54" fill="#528f5e"/><rect x="308.98" y="223.91" width="22.16" height="10.54" fill="#7db688"/><rect x="330.14" y="223.91" width="22.16" height="10.54" fill="#9bcca5"/><rect x="351.30" y="223.91" width="22.16" height="10.54" fill="#b1dab9"/><rect x="372.46" y="223.91" width="22.16" height="10.54" fill="#c5e4cb"/><rect x="393.62" y="223.91" width="22.16" height="10.54" fill="#d3ecd8"/><rect x="414.78" y="223.91" width="22.16" height="10.54" fill="#e2f3e5"/><rect x="435.94" y="223.91" width="21.16" height="10.54" fill="#ecf7ee"/>
<text class="a" x="256.08" y="168.10">.001</text><text class="a" x="256.08" y="178.10">.003</text><text class="a" x="256.08" y="189.10">.008</text><text class="a" x="277.24" y="189.10">.001</text><text class="a" x="256.08" y="199.10">.020</text><text class="a" x="277.24" y="199.10">.003</text><text class="a" x="298.40" y="199.10">.002</text><text class="a" x="319.56" y="199.10">.001</text><text class="a w" x="256.08" y="210.10">.052</text><text class="a" x="277.24" y="210.10">.008</text><text class="a" x="298.40" y="210.10">.005</text><text class="a" x="319.56" y="210.10">.003</text><text class="a" x="340.72" y="210.10">.002</text><text class="a" x="361.88" y="210.10">.001</text><text class="a w" x="256.08" y="220.10">.137</text><text class="a" x="277.24" y="220.10">.022</text><text class="a" x="298.40" y="220.10">.012</text><text class="a" x="319.56" y="220.10">.008</text><text class="a" x="340.72" y="220.10">.005</text><text class="a" x="361.88" y="220.10">.004</text><text class="a" x="383.04" y="220.10">.002</text><text class="a" x="404.20" y="220.10">.001</text><text class="a w" x="256.08" y="231.10">.457</text><text class="a w" x="277.24" y="231.10">.083</text><text class="a w" x="298.40" y="231.10">.051</text><text class="a" x="319.56" y="231.10">.034</text><text class="a" x="340.72" y="231.10">.024</text><text class="a" x="361.88" y="231.10">.017</text><text class="a" x="383.04" y="231.10">.011</text><text class="a" x="404.20" y="231.10">.007</text><text class="a" x="425.36" y="231.10">.003</text>
<line class="m" x1="256.50" y1="234.45" x2="256.50" y2="236.05"/><line class="m n" x1="244.10" y1="134.50" x2="245.50" y2="134.50"/><line class="m" x1="277.50" y1="234.45" x2="277.50" y2="236.05"/><line class="m n" x1="244.10" y1="144.50" x2="245.50" y2="144.50"/><line class="m" x1="298.50" y1="234.45" x2="298.50" y2="236.05"/><line class="m n" x1="244.10" y1="155.50" x2="245.50" y2="155.50"/><line class="m" x1="319.50" y1="234.45" x2="319.50" y2="236.05"/><line class="m n" x1="244.10" y1="165.50" x2="245.50" y2="165.50"/><line class="m" x1="340.50" y1="234.45" x2="340.50" y2="236.05"/><line class="m n" x1="244.10" y1="176.50" x2="245.50" y2="176.50"/><line class="m" x1="361.50" y1="234.45" x2="361.50" y2="236.05"/><line class="m n" x1="244.10" y1="186.50" x2="245.50" y2="186.50"/><line class="m" x1="383.50" y1="234.45" x2="383.50" y2="236.05"/><line class="m n" x1="244.10" y1="197.50" x2="245.50" y2="197.50"/><line class="m" x1="404.50" y1="234.45" x2="404.50" y2="236.05"/><line class="m n" x1="244.10" y1="208.50" x2="245.50" y2="208.50"/><line class="m" x1="425.50" y1="234.45" x2="425.50" y2="236.05"/><line class="m n" x1="244.10" y1="218.50" x2="245.50" y2="218.50"/><line class="m" x1="446.50" y1="234.45" x2="446.50" y2="236.05"/><line class="m n" x1="244.10" y1="229.50" x2="245.50" y2="229.50"/>
<text class="t" x="351.30" y="127.10">FplA</text>
</g>
<g>
<rect x="473.20" y="129.00" width="211.60" height="105.45" fill="#ecf7ee"/>
<rect x="473.20" y="129.00" width="22.16" height="11.54" fill="#ecf7ee"/><rect x="494.36" y="129.00" width="22.16" height="11.54" fill="#ecf7ee"/><rect x="515.52" y="129.00" width="22.16" height="11.54" fill="#ecf7ee"/><rect x="536.68" y="129.00" width="22.16" height="11.54" fill="#ecf7ee"/><rect x="557.84" y="129.00" width="22.16" height="11.54" fill="#ecf7ee"/><rect x="579.00" y="129.00" width="22.16" height="11.54" fill="#ecf7ee"/><rect x="600.16" y="129.00" width="22.16" height="11.54" fill="#ecf7ee"/><rect x="621.32" y="129.00" width="22.16" height="11.54" fill="#ecf7ee"/><rect x="642.48" y="129.00" width="22.16" height="11.54" fill="#ecf7ee"/><rect x="663.64" y="129.00" width="21.16" height="11.54" fill="#ecf7ee"/><rect x="473.20" y="139.54" width="22.16" height="11.54" fill="#ebf7ed"/><rect x="494.36" y="139.54" width="22.16" height="11.54" fill="#ecf7ee"/><rect x="515.52" y="139.54" width="22.16" height="11.54" fill="#ecf7ee"/><rect x="536.68" y="139.54" width="22.16" height="11.54" fill="#ecf7ee"/><rect x="557.84" y="139.54" width="22.16" height="11.54" fill="#ecf7ee"/><rect x="579.00" y="139.54" width="22.16" height="11.54" fill="#ecf7ee"/><rect x="600.16" y="139.54" width="22.16" height="11.54" fill="#ecf7ee"/><rect x="621.32" y="139.54" width="22.16" height="11.54" fill="#ecf7ee"/><rect x="642.48" y="139.54" width="22.16" height="11.54" fill="#ecf7ee"/><rect x="663.64" y="139.54" width="21.16" height="11.54" fill="#ecf7ee"/><rect x="473.20" y="150.09" width="22.16" height="11.54" fill="#e5f4e8"/><rect x="494.36" y="150.09" width="22.16" height="11.54" fill="#ebf7ed"/><rect x="515.52" y="150.09" width="22.16" height="11.54" fill="#ecf7ee"/><rect x="536.68" y="150.09" width="22.16" height="11.54" fill="#ecf7ee"/><rect x="557.84" y="150.09" width="22.16" height="11.54" fill="#ecf7ee"/><rect x="579.00" y="150.09" width="22.16" height="11.54" fill="#ecf7ee"/><rect x="600.16" y="150.09" width="22.16" height="11.54" fill="#ecf7ee"/><rect x="621.32" y="150.09" width="22.16" height="11.54" fill="#ecf7ee"/><rect x="642.48" y="150.09" width="22.16" height="11.54" fill="#ecf7ee"/><rect x="663.64" y="150.09" width="21.16" height="11.54" fill="#ecf7ee"/><rect x="473.20" y="160.63" width="22.16" height="11.54" fill="#ddf0e1"/><rect x="494.36" y="160.63" width="22.16" height="11.54" fill="#e5f4e8"/><rect x="515.52" y="160.63" width="22.16" height="11.54" fill="#ebf7ed"/><rect x="536.68" y="160.63" width="22.16" height="11.54" fill="#ecf7ee"/><rect x="557.84" y="160.63" width="22.16" height="11.54" fill="#ecf7ee"/><rect x="579.00" y="160.63" width="22.16" height="11.54" fill="#ecf7ee"/><rect x="600.16" y="160.63" width="22.16" height="11.54" fill="#ecf7ee"/><rect x="621.32" y="160.63" width="22.16" height="11.54" fill="#ecf7ee"/><rect x="642.48" y="160.63" width="22.16" height="11.54" fill="#ecf7ee"/><rect x="663.64" y="160.63" width="21.16" height="11.54" fill="#ecf7ee"/><rect x="473.20" y="171.18" width="22.16" height="11.54" fill="#cce8d1"/><rect x="494.36" y="171.18" width="22.16" height="11.54" fill="#e5f4e8"/><rect x="515.52" y="171.18" width="22.16" height="11.54" fill="#e9f6ec"/><rect x="536.68" y="171.18" width="22.16" height="11.54" fill="#ebf7ed"/><rect x="557.84" y="171.18" width="22.16" height="11.54" fill="#ecf7ee"/><rect x="579.00" y="171.18" width="22.16" height="11.54" fill="#ecf7ee"/><rect x="600.16" y="171.18" width="22.16" height="11.54" fill="#ecf7ee"/><rect x="621.32" y="171.18" width="22.16" height="11.54" fill="#ecf7ee"/><rect x="642.48" y="171.18" width="22.16" height="11.54" fill="#ecf7ee"/><rect x="663.64" y="171.18" width="21.16" height="11.54" fill="#ecf7ee"/><rect x="473.20" y="181.72" width="22.16" height="11.54" fill="#b5dcbd"/><rect x="494.36" y="181.72" width="22.16" height="11.54" fill="#ddf0e1"/><rect x="515.52" y="181.72" width="22.16" height="11.54" fill="#e5f4e8"/><rect x="536.68" y="181.72" width="22.16" height="11.54" fill="#e9f6ec"/><rect x="557.84" y="181.72" width="22.16" height="11.54" fill="#ebf7ed"/><rect x="579.00" y="181.72" width="22.16" height="11.54" fill="#ebf7ed"/><rect x="600.16" y="181.72" width="22.16" height="11.54" fill="#ecf7ee"/><rect x="621.32" y="181.72" width="22.16" height="11.54" fill="#ecf7ee"/><rect x="642.48" y="181.72" width="22.16" height="11.54" fill="#ecf7ee"/><rect x="663.64" y="181.72" width="21.16" height="11.54" fill="#ecf7ee"/><rect x="473.20" y="192.27" width="22.16" height="11.54" fill="#83bb8e"/><rect x="494.36" y="192.27" width="22.16" height="11.54" fill="#d0ead5"/><rect x="515.52" y="192.27" width="22.16" height="11.54" fill="#ddf0e1"/><rect x="536.68" y="192.27" width="22.16" height="11.54" fill="#e2f3e5"/><rect x="557.84" y="192.27" width="22.16" height="11.54" fill="#e5f4e8"/><rect x="579.00" y="192.27" width="22.16" height="11.54" fill="#e9f6ec"/><rect x="600.16" y="192.27" width="22.16" height="11.54" fill="#ebf7ed"/><rect x="621.32" y="192.27" width="22.16" height="11.54" fill="#ecf7ee"/><rect x="642.48" y="192.27" width="22.16" height="11.54" fill="#ecf7ee"/><rect x="663.64" y="192.27" width="21.16" height="11.54" fill="#ecf7ee"/><rect x="473.20" y="202.81" width="22.16" height="11.54" fill="#30643a"/><rect x="494.36" y="202.81" width="22.16" height="11.54" fill="#b5dcbd"/><rect x="515.52" y="202.81" width="22.16" height="11.54" fill="#d0ead5"/><rect x="536.68" y="202.81" width="22.16" height="11.54" fill="#daefde"/><rect x="557.84" y="202.81" width="22.16" height="11.54" fill="#e2f3e5"/><rect x="579.00" y="202.81" width="22.16" height="11.54" fill="#e5f4e8"/><rect x="600.16" y="202.81" width="22.16" height="11.54" fill="#e9f6ec"/><rect x="621.32" y="202.81" width="22.16" height="11.54" fill="#ebf7ed"/><rect x="642.48" y="202.81" width="22.16" height="11.54" fill="#ecf7ee"/><rect x="663.64" y="202.81" width="21.16" height="11.54" fill="#ecf7ee"/><rect x="473.20" y="213.36" width="22.16" height="11.54" fill="#000000"/><rect x="494.36" y="213.36" width="22.16" height="11.54" fill="#7bb486"/><rect x="515.52" y="213.36" width="22.16" height="11.54" fill="#abd6b3"/><rect x="536.68" y="213.36" width="22.16" height="11.54" fill="#c2e3c8"/><rect x="557.84" y="213.36" width="22.16" height="11.54" fill="#d0ead5"/><rect x="579.00" y="213.36" width="22.16" height="11.54" fill="#daefde"/><rect x="600.16" y="213.36" width="22.16" height="11.54" fill="#e2f3e5"/><rect x="621.32" y="213.36" width="22.16" height="11.54" fill="#e5f4e8"/><rect x="642.48" y="213.36" width="22.16" height="11.54" fill="#ebf7ed"/><rect x="663.64" y="213.36" width="21.16" height="11.54" fill="#ecf7ee"/><rect x="473.20" y="223.91" width="22.16" height="10.54" fill="#000000"/><rect x="494.36" y="223.91" width="22.16" height="10.54" fill="#020502"/><rect x="515.52" y="223.91" width="22.16" height="10.54" fill="#468152"/><rect x="536.68" y="223.91" width="22.16" height="10.54" fill="#75b081"/><rect x="557.84" y="223.91" width="22.16" height="10.54" fill="#97c9a1"/><rect x="579.00" y="223.91" width="22.16" height="10.54" fill="#b1dab9"/><rect x="600.16" y="223.91" width="22.16" height="10.54" fill="#c5e4cb"/><rect x="621.32" y="223.91" width="22.16" height="10.54" fill="#d3ecd8"/><rect x="642.48" y="223.91" width="22.16" height="10.54" fill="#e2f3e5"/><rect x="663.64" y="223.91" width="21.16" height="10.54" fill="#ecf7ee"/>
<text class="a" x="483.78" y="157.10">.002</text><text class="a" x="483.78" y="168.10">.004</text><text class="a" x="504.94" y="168.10">.002</text><text class="a" x="483.78" y="178.10">.009</text><text class="a" x="504.94" y="178.10">.002</text><text class="a" x="526.10" y="178.10">.001</text><text class="a" x="483.78" y="189.10">.016</text><text class="a" x="504.94" y="189.10">.004</text><text class="a" x="526.10" y="189.10">.002</text><text class="a" x="547.26" y="189.10">.001</text><text class="a" x="483.78" y="199.10">.032</text><text class="a" x="504.94" y="199.10">.008</text><text class="a" x="526.10" y="199.10">.004</text><text class="a" x="547.26" y="199.10">.003</text><text class="a" x="568.42" y="199.10">.002</text><text class="a" x="589.58" y="199.10">.001</text><text class="a w" x="483.78" y="210.10">.067</text><text class="a" x="504.94" y="210.10">.016</text><text class="a" x="526.10" y="210.10">.008</text><text class="a" x="547.26" y="210.10">.005</text><text class="a" x="568.42" y="210.10">.003</text><text class="a" x="589.58" y="210.10">.002</text><text class="a" x="610.74" y="210.10">.001</text><text class="a w" x="483.78" y="220.10">.148</text><text class="a" x="504.94" y="220.10">.035</text><text class="a" x="526.10" y="220.10">.019</text><text class="a" x="547.26" y="220.10">.012</text><text class="a" x="568.42" y="220.10">.008</text><text class="a" x="589.58" y="220.10">.005</text><text class="a" x="610.74" y="220.10">.003</text><text class="a" x="631.90" y="220.10">.002</text><text class="a w" x="483.78" y="231.10">.305</text><text class="a w" x="504.94" y="231.10">.098</text><text class="a w" x="526.10" y="231.10">.056</text><text class="a" x="547.26" y="231.10">.037</text><text class="a" x="568.42" y="231.10">.025</text><text class="a" x="589.58" y="231.10">.017</text><text class="a" x="610.74" y="231.10">.011</text><text class="a" x="631.90" y="231.10">.007</text><text class="a" x="653.06" y="231.10">.003</text>
<line class="m" x1="483.50" y1="234.45" x2="483.50" y2="236.05"/><line class="m n" x1="471.80" y1="134.50" x2="473.20" y2="134.50"/><line class="m" x1="504.50" y1="234.45" x2="504.50" y2="236.05"/><line class="m n" x1="471.80" y1="144.50" x2="473.20" y2="144.50"/><line class="m" x1="526.50" y1="234.45" x2="526.50" y2="236.05"/><line class="m n" x1="471.80" y1="155.50" x2="473.20" y2="155.50"/><line class="m" x1="547.50" y1="234.45" x2="547.50" y2="236.05"/><line class="m n" x1="471.80" y1="165.50" x2="473.20" y2="165.50"/><line class="m" x1="568.50" y1="234.45" x2="568.50" y2="236.05"/><line class="m n" x1="471.80" y1="176.50" x2="473.20" y2="176.50"/><line class="m" x1="589.50" y1="234.45" x2="589.50" y2="236.05"/><line class="m n" x1="471.80" y1="186.50" x2="473.20" y2="186.50"/><line class="m" x1="610.50" y1="234.45" x2="610.50" y2="236.05"/><line class="m n" x1="471.80" y1="197.50" x2="473.20" y2="197.50"/><line class="m" x1="631.50" y1="234.45" x2="631.50" y2="236.05"/><line class="m n" x1="471.80" y1="208.50" x2="473.20" y2="208.50"/><line class="m" x1="653.50" y1="234.45" x2="653.50" y2="236.05"/><line class="m n" x1="471.80" y1="218.50" x2="473.20" y2="218.50"/><line class="m" x1="674.50" y1="234.45" x2="674.50" y2="236.05"/><line class="m n" x1="471.80" y1="229.50" x2="473.20" y2="229.50"/>
<text class="t" x="579.00" y="127.10">FexpA</text>
</g>
<g>
<rect x="18.00" y="248.00" width="211.60" height="105.45" fill="#ecf7ee"/>
<rect x="18.00" y="248.00" width="22.16" height="11.54" fill="#ecf7ee"/><rect x="39.16" y="248.00" width="22.16" height="11.54" fill="#ecf7ee"/><rect x="60.32" y="248.00" width="22.16" height="11.54" fill="#ecf7ee"/><rect x="81.48" y="248.00" width="22.16" height="11.54" fill="#ecf7ee"/><rect x="102.64" y="248.00" width="22.16" height="11.54" fill="#ecf7ee"/><rect x="123.80" y="248.00" width="22.16" height="11.54" fill="#ecf7ee"/><rect x="144.96" y="248.00" width="22.16" height="11.54" fill="#ecf7ee"/><rect x="166.12" y="248.00" width="22.16" height="11.54" fill="#ecf7ee"/><rect x="187.28" y="248.00" width="22.16" height="11.54" fill="#ecf7ee"/><rect x="208.44" y="248.00" width="21.16" height="11.54" fill="#ecf7ee"/><rect x="18.00" y="258.55" width="22.16" height="11.54" fill="#ecf7ee"/><rect x="39.16" y="258.55" width="22.16" height="11.54" fill="#ecf7ee"/><rect x="60.32" y="258.55" width="22.16" height="11.54" fill="#ecf7ee"/><rect x="81.48" y="258.55" width="22.16" height="11.54" fill="#ecf7ee"/><rect x="102.64" y="258.55" width="22.16" height="11.54" fill="#ecf7ee"/><rect x="123.80" y="258.55" width="22.16" height="11.54" fill="#ecf7ee"/><rect x="144.96" y="258.55" width="22.16" height="11.54" fill="#ecf7ee"/><rect x="166.12" y="258.55" width="22.16" height="11.54" fill="#ecf7ee"/><rect x="187.28" y="258.55" width="22.16" height="11.54" fill="#ecf7ee"/><rect x="208.44" y="258.55" width="21.16" height="11.54" fill="#ecf7ee"/><rect x="18.00" y="269.09" width="22.16" height="11.54" fill="#ecf7ee"/><rect x="39.16" y="269.09" width="22.16" height="11.54" fill="#ecf7ee"/><rect x="60.32" y="269.09" width="22.16" height="11.54" fill="#ecf7ee"/><rect x="81.48" y="269.09" width="22.16" height="11.54" fill="#ecf7ee"/><rect x="102.64" y="269.09" width="22.16" height="11.54" fill="#ecf7ee"/><rect x="123.80" y="269.09" width="22.16" height="11.54" fill="#ecf7ee"/><rect x="144.96" y="269.09" width="22.16" height="11.54" fill="#ecf7ee"/><rect x="166.12" y="269.09" width="22.16" height="11.54" fill="#ecf7ee"/><rect x="187.28" y="269.09" width="22.16" height="11.54" fill="#ecf7ee"/><rect x="208.44" y="269.09" width="21.16" height="11.54" fill="#ecf7ee"/><rect x="18.00" y="279.63" width="22.16" height="11.54" fill="#ebf7ed"/><rect x="39.16" y="279.63" width="22.16" height="11.54" fill="#ecf7ee"/><rect x="60.32" y="279.63" width="22.16" height="11.54" fill="#ecf7ee"/><rect x="81.48" y="279.63" width="22.16" height="11.54" fill="#ecf7ee"/><rect x="102.64" y="279.63" width="22.16" height="11.54" fill="#ecf7ee"/><rect x="123.80" y="279.63" width="22.16" height="11.54" fill="#ecf7ee"/><rect x="144.96" y="279.63" width="22.16" height="11.54" fill="#ecf7ee"/><rect x="166.12" y="279.63" width="22.16" height="11.54" fill="#ecf7ee"/><rect x="187.28" y="279.63" width="22.16" height="11.54" fill="#ecf7ee"/><rect x="208.44" y="279.63" width="21.16" height="11.54" fill="#ecf7ee"/><rect x="18.00" y="290.18" width="22.16" height="11.54" fill="#e2f3e5"/><rect x="39.16" y="290.18" width="22.16" height="11.54" fill="#ecf7ee"/><rect x="60.32" y="290.18" width="22.16" height="11.54" fill="#ecf7ee"/><rect x="81.48" y="290.18" width="22.16" height="11.54" fill="#ecf7ee"/><rect x="102.64" y="290.18" width="22.16" height="11.54" fill="#ecf7ee"/><rect x="123.80" y="290.18" width="22.16" height="11.54" fill="#ecf7ee"/><rect x="144.96" y="290.18" width="22.16" height="11.54" fill="#ecf7ee"/><rect x="166.12" y="290.18" width="22.16" height="11.54" fill="#ecf7ee"/><rect x="187.28" y="290.18" width="22.16" height="11.54" fill="#ecf7ee"/><rect x="208.44" y="290.18" width="21.16" height="11.54" fill="#ecf7ee"/><rect x="18.00" y="300.73" width="22.16" height="11.54" fill="#d0ead5"/><rect x="39.16" y="300.73" width="22.16" height="11.54" fill="#ecf7ee"/><rect x="60.32" y="300.73" width="22.16" height="11.54" fill="#ecf7ee"/><rect x="81.48" y="300.73" width="22.16" height="11.54" fill="#ecf7ee"/><rect x="102.64" y="300.73" width="22.16" height="11.54" fill="#ecf7ee"/><rect x="123.80" y="300.73" width="22.16" height="11.54" fill="#ecf7ee"/><rect x="144.96" y="300.73" width="22.16" height="11.54" fill="#ecf7ee"/><rect x="166.12" y="300.73" width="22.16" height="11.54" fill="#ecf7ee"/><rect x="187.28" y="300.73" width="22.16" height="11.54" fill="#ecf7ee"/><rect x="208.44" y="300.73" width="21.16" height="11.54" fill="#ecf7ee"/><rect x="18.00" y="311.27" width="22.16" height="11.54" fill="#a4d2ad"/><rect x="39.16" y="311.27" width="22.16" height="11.54" fill="#ebf7ed"/><rect x="60.32" y="311.27" width="22.16" height="11.54" fill="#ebf7ed"/><rect x="81.48" y="311.27" width="22.16" height="11.54" fill="#ecf7ee"/><rect x="102.64" y="311.27" width="22.16" height="11.54" fill="#ecf7ee"/><rect x="123.80" y="311.27" width="22.16" height="11.54" fill="#ecf7ee"/><rect x="144.96" y="311.27" width="22.16" height="11.54" fill="#ecf7ee"/><rect x="166.12" y="311.27" width="22.16" height="11.54" fill="#ecf7ee"/><rect x="187.28" y="311.27" width="22.16" height="11.54" fill="#ecf7ee"/><rect x="208.44" y="311.27" width="21.16" height="11.54" fill="#ecf7ee"/><rect x="18.00" y="321.81" width="22.16" height="11.54" fill="#3f7a4b"/><rect x="39.16" y="321.81" width="22.16" height="11.54" fill="#e2f3e5"/><rect x="60.32" y="321.81" width="22.16" height="11.54" fill="#e9f6ec"/><rect x="81.48" y="321.81" width="22.16" height="11.54" fill="#ebf7ed"/><rect x="102.64" y="321.81" width="22.16" height="11.54" fill="#ebf7ed"/><rect x="123.80" y="321.81" width="22.16" height="11.54" fill="#ebf7ed"/><rect x="144.96" y="321.81" width="22.16" height="11.54" fill="#ebf7ed"/><rect x="166.12" y="321.81" width="22.16" height="11.54" fill="#ebf7ed"/><rect x="187.28" y="321.81" width="22.16" height="11.54" fill="#ecf7ee"/><rect x="208.44" y="321.81" width="21.16" height="11.54" fill="#ecf7ee"/><rect x="18.00" y="332.36" width="22.16" height="11.54" fill="#000000"/><rect x="39.16" y="332.36" width="22.16" height="11.54" fill="#c2e3c8"/><rect x="60.32" y="332.36" width="22.16" height="11.54" fill="#d3ecd8"/><rect x="81.48" y="332.36" width="22.16" height="11.54" fill="#daefde"/><rect x="102.64" y="332.36" width="22.16" height="11.54" fill="#e2f3e5"/><rect x="123.80" y="332.36" width="22.16" height="11.54" fill="#e5f4e8"/><rect x="144.96" y="332.36" width="22.16" height="11.54" fill="#e5f4e8"/><rect x="166.12" y="332.36" width="22.16" height="11.54" fill="#e9f6ec"/><rect x="187.28" y="332.36" width="22.16" height="11.54" fill="#ebf7ed"/><rect x="208.44" y="332.36" width="21.16" height="11.54" fill="#ecf7ee"/><rect x="18.00" y="342.90" width="22.16" height="10.54" fill="#000000"/><rect x="39.16" y="342.90" width="22.16" height="10.54" fill="#609d6c"/><rect x="60.32" y="342.90" width="22.16" height="10.54" fill="#83bb8e"/><rect x="81.48" y="342.90" width="22.16" height="10.54" fill="#95c89f"/><rect x="102.64" y="342.90" width="22.16" height="10.54" fill="#a4d2ad"/><rect x="123.80" y="342.90" width="22.16" height="10.54" fill="#b1dab9"/><rect x="144.96" y="342.90" width="22.16" height="10.54" fill="#bee1c5"/><rect x="166.12" y="342.90" width="22.16" height="10.54" fill="#cce8d1"/><rect x="187.28" y="342.90" width="22.16" height="10.54" fill="#daefde"/><rect x="208.44" y="342.90" width="21.16" height="10.54" fill="#ecf7ee"/>
<text class="a" x="28.58" y="297.10">.003</text><text class="a" x="28.58" y="308.10">.008</text><text class="a" x="28.58" y="318.10">.021</text><text class="a w" x="28.58" y="329.10">.059</text><text class="a" x="49.74" y="329.10">.003</text><text class="a" x="70.90" y="329.10">.001</text><text class="a w" x="28.58" y="339.10">.171</text><text class="a" x="49.74" y="339.10">.012</text><text class="a" x="70.90" y="339.10">.007</text><text class="a" x="92.06" y="339.10">.005</text><text class="a" x="113.22" y="339.10">.003</text><text class="a" x="134.38" y="339.10">.002</text><text class="a" x="155.54" y="339.10">.002</text><text class="a" x="176.70" y="339.10">.001</text><text class="a w" x="28.58" y="350.10">.526</text><text class="a w" x="49.74" y="350.10">.045</text><text class="a" x="70.90" y="350.10">.032</text><text class="a" x="92.06" y="350.10">.026</text><text class="a" x="113.22" y="350.10">.021</text><text class="a" x="134.38" y="350.10">.017</text><text class="a" x="155.54" y="350.10">.013</text><text class="a" x="176.70" y="350.10">.009</text><text class="a" x="197.86" y="350.10">.005</text>
<line class="m" x1="28.50" y1="353.45" x2="28.50" y2="355.05"/><line class="m n" x1="16.60" y1="253.50" x2="18.00" y2="253.50"/><line class="m" x1="49.50" y1="353.45" x2="49.50" y2="355.05"/><line class="m n" x1="16.60" y1="263.50" x2="18.00" y2="263.50"/><line class="m" x1="70.50" y1="353.45" x2="70.50" y2="355.05"/><line class="m n" x1="16.60" y1="274.50" x2="18.00" y2="274.50"/><line class="m" x1="92.50" y1="353.45" x2="92.50" y2="355.05"/><line class="m n" x1="16.60" y1="284.50" x2="18.00" y2="284.50"/><line class="m" x1="113.50" y1="353.45" x2="113.50" y2="355.05"/><line class="m n" x1="16.60" y1="295.50" x2="18.00" y2="295.50"/><line class="m" x1="134.50" y1="353.45" x2="134.50" y2="355.05"/><line class="m n" x1="16.60" y1="305.50" x2="18.00" y2="305.50"/><line class="m" x1="155.50" y1="353.45" x2="155.50" y2="355.05"/><line class="m n" x1="16.60" y1="316.50" x2="18.00" y2="316.50"/><line class="m" x1="176.50" y1="353.45" x2="176.50" y2="355.05"/><line class="m n" x1="16.60" y1="327.50" x2="18.00" y2="327.50"/><line class="m" x1="197.50" y1="353.45" x2="197.50" y2="355.05"/><line class="m n" x1="16.60" y1="337.50" x2="18.00" y2="337.50"/><line class="m" x1="219.50" y1="353.45" x2="219.50" y2="355.05"/><line class="m n" x1="16.60" y1="348.50" x2="18.00" y2="348.50"/>
<text class="k" transform="translate(15.00,253.27) rotate(-90)">0</text><text class="k" transform="translate(15.00,263.82) rotate(-90)">1</text><text class="k" transform="translate(15.00,274.36) rotate(-90)">2</text><text class="k" transform="translate(15.00,284.91) rotate(-90)">3</text><text class="k" transform="translate(15.00,295.45) rotate(-90)">4</text><text class="k" transform="translate(15.00,306.00) rotate(-90)">5</text><text class="k" transform="translate(15.00,316.54) rotate(-90)">6</text><text class="k" transform="translate(15.00,327.09) rotate(-90)">7</text><text class="k" transform="translate(15.00,337.63) rotate(-90)">8</text><text class="k" transform="translate(15.00,348.18) rotate(-90)">9</text>
<text class="k" x="28.58" y="359.10">0</text><text class="k" x="49.74" y="359.10">1</text><text class="k" x="70.90" y="359.10">2</text><text class="k" x="92.06" y="359.10">3</text><text class="k" x="113.22" y="359.10">4</text><text class="k" x="134.38" y="359.10">5</text><text class="k" x="155.54" y="359.10">6</text><text class="k" x="176.70" y="359.10">7</text><text class="k" x="197.86" y="359.10">8</text><text class="k" x="219.02" y="359.10">9</text>
<text class="t" x="123.80" y="246.10">FunifP</text>
</g>
<g>
<rect x="245.50" y="248.00" width="211.60" height="105.45" fill="#ecf7ee"/>
<rect x="245.50" y="248.00" width="22.16" height="11.54" fill="#ebf7ed"/><rect x="266.66" y="248.00" width="22.16" height="11.54" fill="#ecf7ee"/><rect x="287.82" y="248.00" width="22.16" height="11.54" fill="#ecf7ee"/><rect x="308.98" y="248.00" width="22.16" height="11.54" fill="#ecf7ee"/><rect x="330.14" y="248.00" width="22.16" height="11.54" fill="#ecf7ee"/><rect x="351.30" y="248.00" width="22.16" height="11.54" fill="#ecf7ee"/><rect x="372.46" y="248.00" width="22.16" height="11.54" fill="#ecf7ee"/><rect x="393.62" y="248.00" width="22.16" height="11.54" fill="#ecf7ee"/><rect x="414.78" y="248.00" width="22.16" height="11.54" fill="#ecf7ee"/><rect x="435.94" y="248.00" width="21.16" height="11.54" fill="#ecf7ee"/><rect x="245.50" y="258.55" width="22.16" height="11.54" fill="#e9f6ec"/><rect x="266.66" y="258.55" width="22.16" height="11.54" fill="#ecf7ee"/><rect x="287.82" y="258.55" width="22.16" height="11.54" fill="#ecf7ee"/><rect x="308.98" y="258.55" width="22.16" height="11.54" fill="#ecf7ee"/><rect x="330.14" y="258.55" width="22.16" height="11.54" fill="#ecf7ee"/><rect x="351.30" y="258.55" width="22.16" height="11.54" fill="#ecf7ee"/><rect x="372.46" y="258.55" width="22.16" height="11.54" fill="#ecf7ee"/><rect x="393.62" y="258.55" width="22.16" height="11.54" fill="#ecf7ee"/><rect x="414.78" y="258.55" width="22.16" height="11.54" fill="#ecf7ee"/><rect x="435.94" y="258.55" width="21.16" height="11.54" fill="#ecf7ee"/><rect x="245.50" y="269.09" width="22.16" height="11.54" fill="#e2f3e5"/><rect x="266.66" y="269.09" width="22.16" height="11.54" fill="#ecf7ee"/><rect x="287.82" y="269.09" width="22.16" height="11.54" fill="#ecf7ee"/><rect x="308.98" y="269.09" width="22.16" height="11.54" fill="#ecf7ee"/><rect x="330.14" y="269.09" width="22.16" height="11.54" fill="#ecf7ee"/><rect x="351.30" y="269.09" width="22.16" height="11.54" fill="#ecf7ee"/><rect x="372.46" y="269.09" width="22.16" height="11.54" fill="#ecf7ee"/><rect x="393.62" y="269.09" width="22.16" height="11.54" fill="#ecf7ee"/><rect x="414.78" y="269.09" width="22.16" height="11.54" fill="#ecf7ee"/><rect x="435.94" y="269.09" width="21.16" height="11.54" fill="#ecf7ee"/><rect x="245.50" y="279.63" width="22.16" height="11.54" fill="#daefde"/><rect x="266.66" y="279.63" width="22.16" height="11.54" fill="#ebf7ed"/><rect x="287.82" y="279.63" width="22.16" height="11.54" fill="#ecf7ee"/><rect x="308.98" y="279.63" width="22.16" height="11.54" fill="#ecf7ee"/><rect x="330.14" y="279.63" width="22.16" height="11.54" fill="#ecf7ee"/><rect x="351.30" y="279.63" width="22.16" height="11.54" fill="#ecf7ee"/><rect x="372.46" y="279.63" width="22.16" height="11.54" fill="#ecf7ee"/><rect x="393.62" y="279.63" width="22.16" height="11.54" fill="#ecf7ee"/><rect x="414.78" y="279.63" width="22.16" height="11.54" fill="#ecf7ee"/><rect x="435.94" y="279.63" width="21.16" height="11.54" fill="#ecf7ee"/><rect x="245.50" y="290.18" width="22.16" height="11.54" fill="#c9e7cf"/><rect x="266.66" y="290.18" width="22.16" height="11.54" fill="#e9f6ec"/><rect x="287.82" y="290.18" width="22.16" height="11.54" fill="#ecf7ee"/><rect x="308.98" y="290.18" width="22.16" height="11.54" fill="#ecf7ee"/><rect x="330.14" y="290.18" width="22.16" height="11.54" fill="#ecf7ee"/><rect x="351.30" y="290.18" width="22.16" height="11.54" fill="#ecf7ee"/><rect x="372.46" y="290.18" width="22.16" height="11.54" fill="#ecf7ee"/><rect x="393.62" y="290.18" width="22.16" height="11.54" fill="#ecf7ee"/><rect x="414.78" y="290.18" width="22.16" height="11.54" fill="#ecf7ee"/><rect x="435.94" y="290.18" width="21.16" height="11.54" fill="#ecf7ee"/><rect x="245.50" y="300.73" width="22.16" height="11.54" fill="#a4d2ad"/><rect x="266.66" y="300.73" width="22.16" height="11.54" fill="#e5f4e8"/><rect x="287.82" y="300.73" width="22.16" height="11.54" fill="#ebf7ed"/><rect x="308.98" y="300.73" width="22.16" height="11.54" fill="#ebf7ed"/><rect x="330.14" y="300.73" width="22.16" height="11.54" fill="#ecf7ee"/><rect x="351.30" y="300.73" width="22.16" height="11.54" fill="#ecf7ee"/><rect x="372.46" y="300.73" width="22.16" height="11.54" fill="#ecf7ee"/><rect x="393.62" y="300.73" width="22.16" height="11.54" fill="#ecf7ee"/><rect x="414.78" y="300.73" width="22.16" height="11.54" fill="#ecf7ee"/><rect x="435.94" y="300.73" width="21.16" height="11.54" fill="#ecf7ee"/><rect x="245.50" y="311.27" width="22.16" height="11.54" fill="#609d6c"/><rect x="266.66" y="311.27" width="22.16" height="11.54" fill="#ddf0e1"/><rect x="287.82" y="311.27" width="22.16" height="11.54" fill="#e5f4e8"/><rect x="308.98" y="311.27" width="22.16" height="11.54" fill="#e9f6ec"/><rect x="330.14" y="311.27" width="22.16" height="11.54" fill="#ebf7ed"/><rect x="351.30" y="311.27" width="22.16" height="11.54" fill="#ecf7ee"/><rect x="372.46" y="311.27" width="22.16" height="11.54" fill="#ecf7ee"/><rect x="393.62" y="311.27" width="22.16" height="11.54" fill="#ecf7ee"/><rect x="414.78" y="311.27" width="22.16" height="11.54" fill="#ecf7ee"/><rect x="435.94" y="311.27" width="21.16" height="11.54" fill="#ecf7ee"/><rect x="245.50" y="321.81" width="22.16" height="11.54" fill="#07160a"/><rect x="266.66" y="321.81" width="22.16" height="11.54" fill="#c5e4cb"/><rect x="287.82" y="321.81" width="22.16" height="11.54" fill="#daefde"/><rect x="308.98" y="321.81" width="22.16" height="11.54" fill="#e2f3e5"/><rect x="330.14" y="321.81" width="22.16" height="11.54" fill="#e5f4e8"/><rect x="351.30" y="321.81" width="22.16" height="11.54" fill="#ebf7ed"/><rect x="372.46" y="321.81" width="22.16" height="11.54" fill="#ebf7ed"/><rect x="393.62" y="321.81" width="22.16" height="11.54" fill="#ecf7ee"/><rect x="414.78" y="321.81" width="22.16" height="11.54" fill="#ecf7ee"/><rect x="435.94" y="321.81" width="21.16" height="11.54" fill="#ecf7ee"/><rect x="245.50" y="332.36" width="22.16" height="11.54" fill="#000000"/><rect x="266.66" y="332.36" width="22.16" height="11.54" fill="#89bf94"/><rect x="287.82" y="332.36" width="22.16" height="11.54" fill="#bbdfc2"/><rect x="308.98" y="332.36" width="22.16" height="11.54" fill="#d0ead5"/><rect x="330.14" y="332.36" width="22.16" height="11.54" fill="#daefde"/><rect x="351.30" y="332.36" width="22.16" height="11.54" fill="#e2f3e5"/><rect x="372.46" y="332.36" width="22.16" height="11.54" fill="#e5f4e8"/><rect x="393.62" y="332.36" width="22.16" height="11.54" fill="#ebf7ed"/><rect x="414.78" y="332.36" width="22.16" height="11.54" fill="#ebf7ed"/><rect x="435.94" y="332.36" width="21.16" height="11.54" fill="#ecf7ee"/><rect x="245.50" y="342.90" width="22.16" height="10.54" fill="#000000"/><rect x="266.66" y="342.90" width="22.16" height="10.54" fill="#0d2512"/><rect x="287.82" y="342.90" width="22.16" height="10.54" fill="#528f5e"/><rect x="308.98" y="342.90" width="22.16" height="10.54" fill="#7db688"/><rect x="330.14" y="342.90" width="22.16" height="10.54" fill="#9bcca5"/><rect x="351.30" y="342.90" width="22.16" height="10.54" fill="#b1dab9"/><rect x="372.46" y="342.90" width="22.16" height="10.54" fill="#c2e3c8"/><rect x="393.62" y="342.90" width="22.16" height="10.54" fill="#d3ecd8"/><rect x="414.78" y="342.90" width="22.16" height="10.54" fill="#ddf0e1"/><rect x="435.94" y="342.90" width="21.16" height="10.54" fill="#ecf7ee"/>
<text class="a" x="256.08" y="266.10">.001</text><text class="a" x="256.08" y="276.10">.003</text><text class="a" x="256.08" y="287.10">.005</text><text class="a" x="256.08" y="297.10">.010</text><text class="a" x="277.24" y="297.10">.001</text><text class="a" x="256.08" y="308.10">.021</text><text class="a" x="277.24" y="308.10">.002</text><text class="a w" x="256.08" y="318.10">.045</text><text class="a" x="277.24" y="318.10">.004</text><text class="a" x="298.40" y="318.10">.002</text><text class="a" x="319.56" y="318.10">.001</text><text class="a w" x="256.08" y="329.10">.093</text><text class="a" x="277.24" y="329.10">.011</text><text class="a" x="298.40" y="329.10">.005</text><text class="a" x="319.56" y="329.10">.003</text><text class="a" x="340.72" y="329.10">.002</text><text class="a w" x="256.08" y="339.10">.184</text><text class="a" x="277.24" y="339.10">.030</text><text class="a" x="298.40" y="339.10">.014</text><text class="a" x="319.56" y="339.10">.008</text><text class="a" x="340.72" y="339.10">.005</text><text class="a" x="361.88" y="339.10">.003</text><text class="a" x="383.04" y="339.10">.002</text><text class="a w" x="256.08" y="350.10">.298</text><text class="a w" x="277.24" y="350.10">.088</text><text class="a w" x="298.40" y="350.10">.051</text><text class="a" x="319.56" y="350.10">.034</text><text class="a" x="340.72" y="350.10">.024</text><text class="a" x="361.88" y="350.10">.017</text><text class="a" x="383.04" y="350.10">.012</text><text class="a" x="404.20" y="350.10">.007</text><text class="a" x="425.36" y="350.10">.004</text>
<line class="m" x1="256.50" y1="353.45" x2="256.50" y2="355.05"/><line class="m n" x1="244.10" y1="253.50" x2="245.50" y2="253.50"/><line class="m" x1="277.50" y1="353.45" x2="277.50" y2="355.05"/><line class="m n" x1="244.10" y1="263.50" x2="245.50" y2="263.50"/><line class="m" x1="298.50" y1="353.45" x2="298.50" y2="355.05"/><line class="m n" x1="244.10" y1="274.50" x2="245.50" y2="274.50"/><line class="m" x1="319.50" y1="353.45" x2="319.50" y2="355.05"/><line class="m n" x1="244.10" y1="284.50" x2="245.50" y2="284.50"/><line class="m" x1="340.50" y1="353.45" x2="340.50" y2="355.05"/><line class="m n" x1="244.10" y1="295.50" x2="245.50" y2="295.50"/><line class="m" x1="361.50" y1="353.45" x2="361.50" y2="355.05"/><line class="m n" x1="244.10" y1="305.50" x2="245.50" y2="305.50"/><line class="m" x1="383.50" y1="353.45" x2="383.50" y2="355.05"/><line class="m n" x1="244.10" y1="316.50" x2="245.50" y2="316.50"/><line class="m" x1="404.50" y1="353.45" x2="404.50" y2="355.05"/><line class="m n" x1="244.10" y1="327.50" x2="245.50" y2="327.50"/><line class="m" x1="425.50" y1="353.45" x2="425.50" y2="355.05"/><line class="m n" x1="244.10" y1="337.50" x2="245.50" y2="337.50"/><line class="m" x1="446.50" y1="353.45" x2="446.50" y2="355.05"/><line class="m n" x1="244.10" y1="348.50" x2="245.50" y2="348.50"/>
<text class="k" x="256.08" y="359.10">0</text><text class="k" x="277.24" y="359.10">1</text><text class="k" x="298.40" y="359.10">2</text><text class="k" x="319.56" y="359.10">3</text><text class="k" x="340.72" y="359.10">4</text><text class="k" x="361.88" y="359.10">5</text><text class="k" x="383.04" y="359.10">6</text><text class="k" x="404.20" y="359.10">7</text><text class="k" x="425.36" y="359.10">8</text><text class="k" x="446.52" y="359.10">9</text>
<text class="t" x="351.30" y="246.10">AP</text>
</g>
<g>
<rect x="473.20" y="248.00" width="211.60" height="105.45" fill="#ecf7ee"/>
<rect x="473.20" y="248.00" width="22.16" height="11.54" fill="#e9f6ec"/><rect x="494.36" y="248.00" width="22.16" height="11.54" fill="#ecf7ee"/><rect x="515.52" y="248.00" width="22.16" height="11.54" fill="#ecf7ee"/><rect x="536.68" y="248.00" width="22.16" height="11.54" fill="#ecf7ee"/><rect x="557.84" y="248.00" width="22.16" height="11.54" fill="#ecf7ee"/><rect x="579.00" y="248.00" width="22.16" height="11.54" fill="#ecf7ee"/><rect x="600.16" y="248.00" width="22.16" height="11.54" fill="#ecf7ee"/><rect x="621.32" y="248.00" width="22.16" height="11.54" fill="#ecf7ee"/><rect x="642.48" y="248.00" width="22.16" height="11.54" fill="#ecf7ee"/><rect x="663.64" y="248.00" width="21.16" height="11.54" fill="#ecf7ee"/><rect x="473.20" y="258.55" width="22.16" height="11.54" fill="#e2f3e5"/><rect x="494.36" y="258.55" width="22.16" height="11.54" fill="#ecf7ee"/><rect x="515.52" y="258.55" width="22.16" height="11.54" fill="#ecf7ee"/><rect x="536.68" y="258.55" width="22.16" height="11.54" fill="#ecf7ee"/><rect x="557.84" y="258.55" width="22.16" height="11.54" fill="#ecf7ee"/><rect x="579.00" y="258.55" width="22.16" height="11.54" fill="#ecf7ee"/><rect x="600.16" y="258.55" width="22.16" height="11.54" fill="#ecf7ee"/><rect x="621.32" y="258.55" width="22.16" height="11.54" fill="#ecf7ee"/><rect x="642.48" y="258.55" width="22.16" height="11.54" fill="#ecf7ee"/><rect x="663.64" y="258.55" width="21.16" height="11.54" fill="#ecf7ee"/><rect x="473.20" y="269.09" width="22.16" height="11.54" fill="#ddf0e1"/><rect x="494.36" y="269.09" width="22.16" height="11.54" fill="#ecf7ee"/><rect x="515.52" y="269.09" width="22.16" height="11.54" fill="#ecf7ee"/><rect x="536.68" y="269.09" width="22.16" height="11.54" fill="#ecf7ee"/><rect x="557.84" y="269.09" width="22.16" height="11.54" fill="#ecf7ee"/><rect x="579.00" y="269.09" width="22.16" height="11.54" fill="#ecf7ee"/><rect x="600.16" y="269.09" width="22.16" height="11.54" fill="#ecf7ee"/><rect x="621.32" y="269.09" width="22.16" height="11.54" fill="#ecf7ee"/><rect x="642.48" y="269.09" width="22.16" height="11.54" fill="#ecf7ee"/><rect x="663.64" y="269.09" width="21.16" height="11.54" fill="#ecf7ee"/><rect x="473.20" y="279.63" width="22.16" height="11.54" fill="#d6edda"/><rect x="494.36" y="279.63" width="22.16" height="11.54" fill="#ecf7ee"/><rect x="515.52" y="279.63" width="22.16" height="11.54" fill="#ecf7ee"/><rect x="536.68" y="279.63" width="22.16" height="11.54" fill="#ecf7ee"/><rect x="557.84" y="279.63" width="22.16" height="11.54" fill="#ecf7ee"/><rect x="579.00" y="279.63" width="22.16" height="11.54" fill="#ecf7ee"/><rect x="600.16" y="279.63" width="22.16" height="11.54" fill="#ecf7ee"/><rect x="621.32" y="279.63" width="22.16" height="11.54" fill="#ecf7ee"/><rect x="642.48" y="279.63" width="22.16" height="11.54" fill="#ecf7ee"/><rect x="663.64" y="279.63" width="21.16" height="11.54" fill="#ecf7ee"/><rect x="473.20" y="290.18" width="22.16" height="11.54" fill="#cce8d1"/><rect x="494.36" y="290.18" width="22.16" height="11.54" fill="#ecf7ee"/><rect x="515.52" y="290.18" width="22.16" height="11.54" fill="#ecf7ee"/><rect x="536.68" y="290.18" width="22.16" height="11.54" fill="#ecf7ee"/><rect x="557.84" y="290.18" width="22.16" height="11.54" fill="#ecf7ee"/><rect x="579.00" y="290.18" width="22.16" height="11.54" fill="#ecf7ee"/><rect x="600.16" y="290.18" width="22.16" height="11.54" fill="#ecf7ee"/><rect x="621.32" y="290.18" width="22.16" height="11.54" fill="#ecf7ee"/><rect x="642.48" y="290.18" width="22.16" height="11.54" fill="#ecf7ee"/><rect x="663.64" y="290.18" width="21.16" height="11.54" fill="#ecf7ee"/><rect x="473.20" y="300.73" width="22.16" height="11.54" fill="#bbdfc2"/><rect x="494.36" y="300.73" width="22.16" height="11.54" fill="#ebf7ed"/><rect x="515.52" y="300.73" width="22.16" height="11.54" fill="#ecf7ee"/><rect x="536.68" y="300.73" width="22.16" height="11.54" fill="#ecf7ee"/><rect x="557.84" y="300.73" width="22.16" height="11.54" fill="#ecf7ee"/><rect x="579.00" y="300.73" width="22.16" height="11.54" fill="#ecf7ee"/><rect x="600.16" y="300.73" width="22.16" height="11.54" fill="#ecf7ee"/><rect x="621.32" y="300.73" width="22.16" height="11.54" fill="#ecf7ee"/><rect x="642.48" y="300.73" width="22.16" height="11.54" fill="#ecf7ee"/><rect x="663.64" y="300.73" width="21.16" height="11.54" fill="#ecf7ee"/><rect x="473.20" y="311.27" width="22.16" height="11.54" fill="#9bcca5"/><rect x="494.36" y="311.27" width="22.16" height="11.54" fill="#e5f4e8"/><rect x="515.52" y="311.27" width="22.16" height="11.54" fill="#ebf7ed"/><rect x="536.68" y="311.27" width="22.16" height="11.54" fill="#ebf7ed"/><rect x="557.84" y="311.27" width="22.16" height="11.54" fill="#ecf7ee"/><rect x="579.00" y="311.27" width="22.16" height="11.54" fill="#ecf7ee"/><rect x="600.16" y="311.27" width="22.16" height="11.54" fill="#ecf7ee"/><rect x="621.32" y="311.27" width="22.16" height="11.54" fill="#ecf7ee"/><rect x="642.48" y="311.27" width="22.16" height="11.54" fill="#ecf7ee"/><rect x="663.64" y="311.27" width="21.16" height="11.54" fill="#ecf7ee"/><rect x="473.20" y="321.81" width="22.16" height="11.54" fill="#609d6c"/><rect x="494.36" y="321.81" width="22.16" height="11.54" fill="#e5f4e8"/><rect x="515.52" y="321.81" width="22.16" height="11.54" fill="#e5f4e8"/><rect x="536.68" y="321.81" width="22.16" height="11.54" fill="#e9f6ec"/><rect x="557.84" y="321.81" width="22.16" height="11.54" fill="#ebf7ed"/><rect x="579.00" y="321.81" width="22.16" height="11.54" fill="#ebf7ed"/><rect x="600.16" y="321.81" width="22.16" height="11.54" fill="#ebf7ed"/><rect x="621.32" y="321.81" width="22.16" height="11.54" fill="#ecf7ee"/><rect x="642.48" y="321.81" width="22.16" height="11.54" fill="#ecf7ee"/><rect x="663.64" y="321.81" width="21.16" height="11.54" fill="#ecf7ee"/><rect x="473.20" y="332.36" width="22.16" height="11.54" fill="#000000"/><rect x="494.36" y="332.36" width="22.16" height="11.54" fill="#d6edda"/><rect x="515.52" y="332.36" width="22.16" height="11.54" fill="#ddf0e1"/><rect x="536.68" y="332.36" width="22.16" height="11.54" fill="#e2f3e5"/><rect x="557.84" y="332.36" width="22.16" height="11.54" fill="#e5f4e8"/><rect x="579.00" y="332.36" width="22.16" height="11.54" fill="#e5f4e8"/><rect x="600.16" y="332.36" width="22.16" height="11.54" fill="#e9f6ec"/><rect x="621.32" y="332.36" width="22.16" height="11.54" fill="#ebf7ed"/><rect x="642.48" y="332.36" width="22.16" height="11.54" fill="#ebf7ed"/><rect x="663.64" y="332.36" width="21.16" height="11.54" fill="#ecf7ee"/><rect x="473.20" y="342.90" width="22.16" height="10.54" fill="#000000"/><rect x="494.36" y="342.90" width="22.16" height="10.54" fill="#89bf94"/><rect x="515.52" y="342.90" width="22.16" height="10.54" fill="#a7d3b0"/><rect x="536.68" y="342.90" width="22.16" height="10.54" fill="#b7ddbe"/><rect x="557.84" y="342.90" width="22.16" height="10.54" fill="#c2e3c8"/><rect x="579.00" y="342.90" width="22.16" height="10.54" fill="#cce8d1"/><rect x="600.16" y="342.90" width="22.16" height="10.54" fill="#d3ecd8"/><rect x="621.32" y="342.90" width="22.16" height="10.54" fill="#daefde"/><rect x="642.48" y="342.90" width="22.16" height="10.54" fill="#e5f4e8"/><rect x="663.64" y="342.90" width="21.16" height="10.54" fill="#ecf7ee"/>
<text class="a" x="483.78" y="255.10">.001</text><text class="a" x="483.78" y="266.10">.003</text><text class="a" x="483.78" y="276.10">.004</text><text class="a" x="483.78" y="287.10">.006</text><text class="a" x="483.78" y="297.10">.009</text><text class="a" x="483.78" y="308.10">.014</text><text class="a" x="483.78" y="318.10">.024</text><text class="a" x="504.94" y="318.10">.002</text><text class="a w" x="483.78" y="329.10">.045</text><text class="a" x="504.94" y="329.10">.002</text><text class="a" x="526.10" y="329.10">.002</text><text class="a" x="547.26" y="329.10">.001</text><text class="a w" x="483.78" y="339.10">.117</text><text class="a" x="504.94" y="339.10">.006</text><text class="a" x="526.10" y="339.10">.004</text><text class="a" x="547.26" y="339.10">.003</text><text class="a" x="568.42" y="339.10">.002</text><text class="a" x="589.58" y="339.10">.002</text><text class="a" x="610.74" y="339.10">.001</text><text class="a w" x="483.78" y="350.10">.637</text><text class="a" x="504.94" y="350.10">.030</text><text class="a" x="526.10" y="350.10">.020</text><text class="a" x="547.26" y="350.10">.015</text><text class="a" x="568.42" y="350.10">.012</text><text class="a" x="589.58" y="350.10">.009</text><text class="a" x="610.74" y="350.10">.007</text><text class="a" x="631.90" y="350.10">.005</text><text class="a" x="653.06" y="350.10">.002</text>
<line class="m" x1="483.50" y1="353.45" x2="483.50" y2="355.05"/><line class="m n" x1="471.80" y1="253.50" x2="473.20" y2="253.50"/><line class="m" x1="504.50" y1="353.45" x2="504.50" y2="355.05"/><line class="m n" x1="471.80" y1="263.50" x2="473.20" y2="263.50"/><line class="m" x1="526.50" y1="353.45" x2="526.50" y2="355.05"/><line class="m n" x1="471.80" y1="274.50" x2="473.20" y2="274.50"/><line class="m" x1="547.50" y1="353.45" x2="547.50" y2="355.05"/><line class="m n" x1="471.80" y1="284.50" x2="473.20" y2="284.50"/><line class="m" x1="568.50" y1="353.45" x2="568.50" y2="355.05"/><line class="m n" x1="471.80" y1="295.50" x2="473.20" y2="295.50"/><line class="m" x1="589.50" y1="353.45" x2="589.50" y2="355.05"/><line class="m n" x1="471.80" y1="305.50" x2="473.20" y2="305.50"/><line class="m" x1="610.50" y1="353.45" x2="610.50" y2="355.05"/><line class="m n" x1="471.80" y1="316.50" x2="473.20" y2="316.50"/><line class="m" x1="631.50" y1="353.45" x2="631.50" y2="355.05"/><line class="m n" x1="471.80" y1="327.50" x2="473.20" y2="327.50"/><line class="m" x1="653.50" y1="353.45" x2="653.50" y2="355.05"/><line class="m n" x1="471.80" y1="337.50" x2="473.20" y2="337.50"/><line class="m" x1="674.50" y1="353.45" x2="674.50" y2="355.05"/><line class="m n" x1="471.80" y1="348.50" x2="473.20" y2="348.50"/>
<text class="k" x="483.78" y="359.10">0</text><text class="k" x="504.94" y="359.10">1</text><text class="k" x="526.10" y="359.10">2</text><text class="k" x="547.26" y="359.10">3</text><text class="k" x="568.42" y="359.10">4</text><text class="k" x="589.58" y="359.10">5</text><text class="k" x="610.74" y="359.10">6</text><text class="k" x="631.90" y="359.10">7</text><text class="k" x="653.06" y="359.10">8</text><text class="k" x="674.22" y="359.10">9</text>
<text class="t" x="579.00" y="246.10">FexpAP</text>
</g>
<text class="l" transform="translate(344.3,372.1) scale(1,1.1)">Degree Quantiles</text>
<text class="l" transform="translate(8.5,187.2) rotate(-90) scale(1,1.1)">Time-cohorts</text>
</svg>
</body></html>
